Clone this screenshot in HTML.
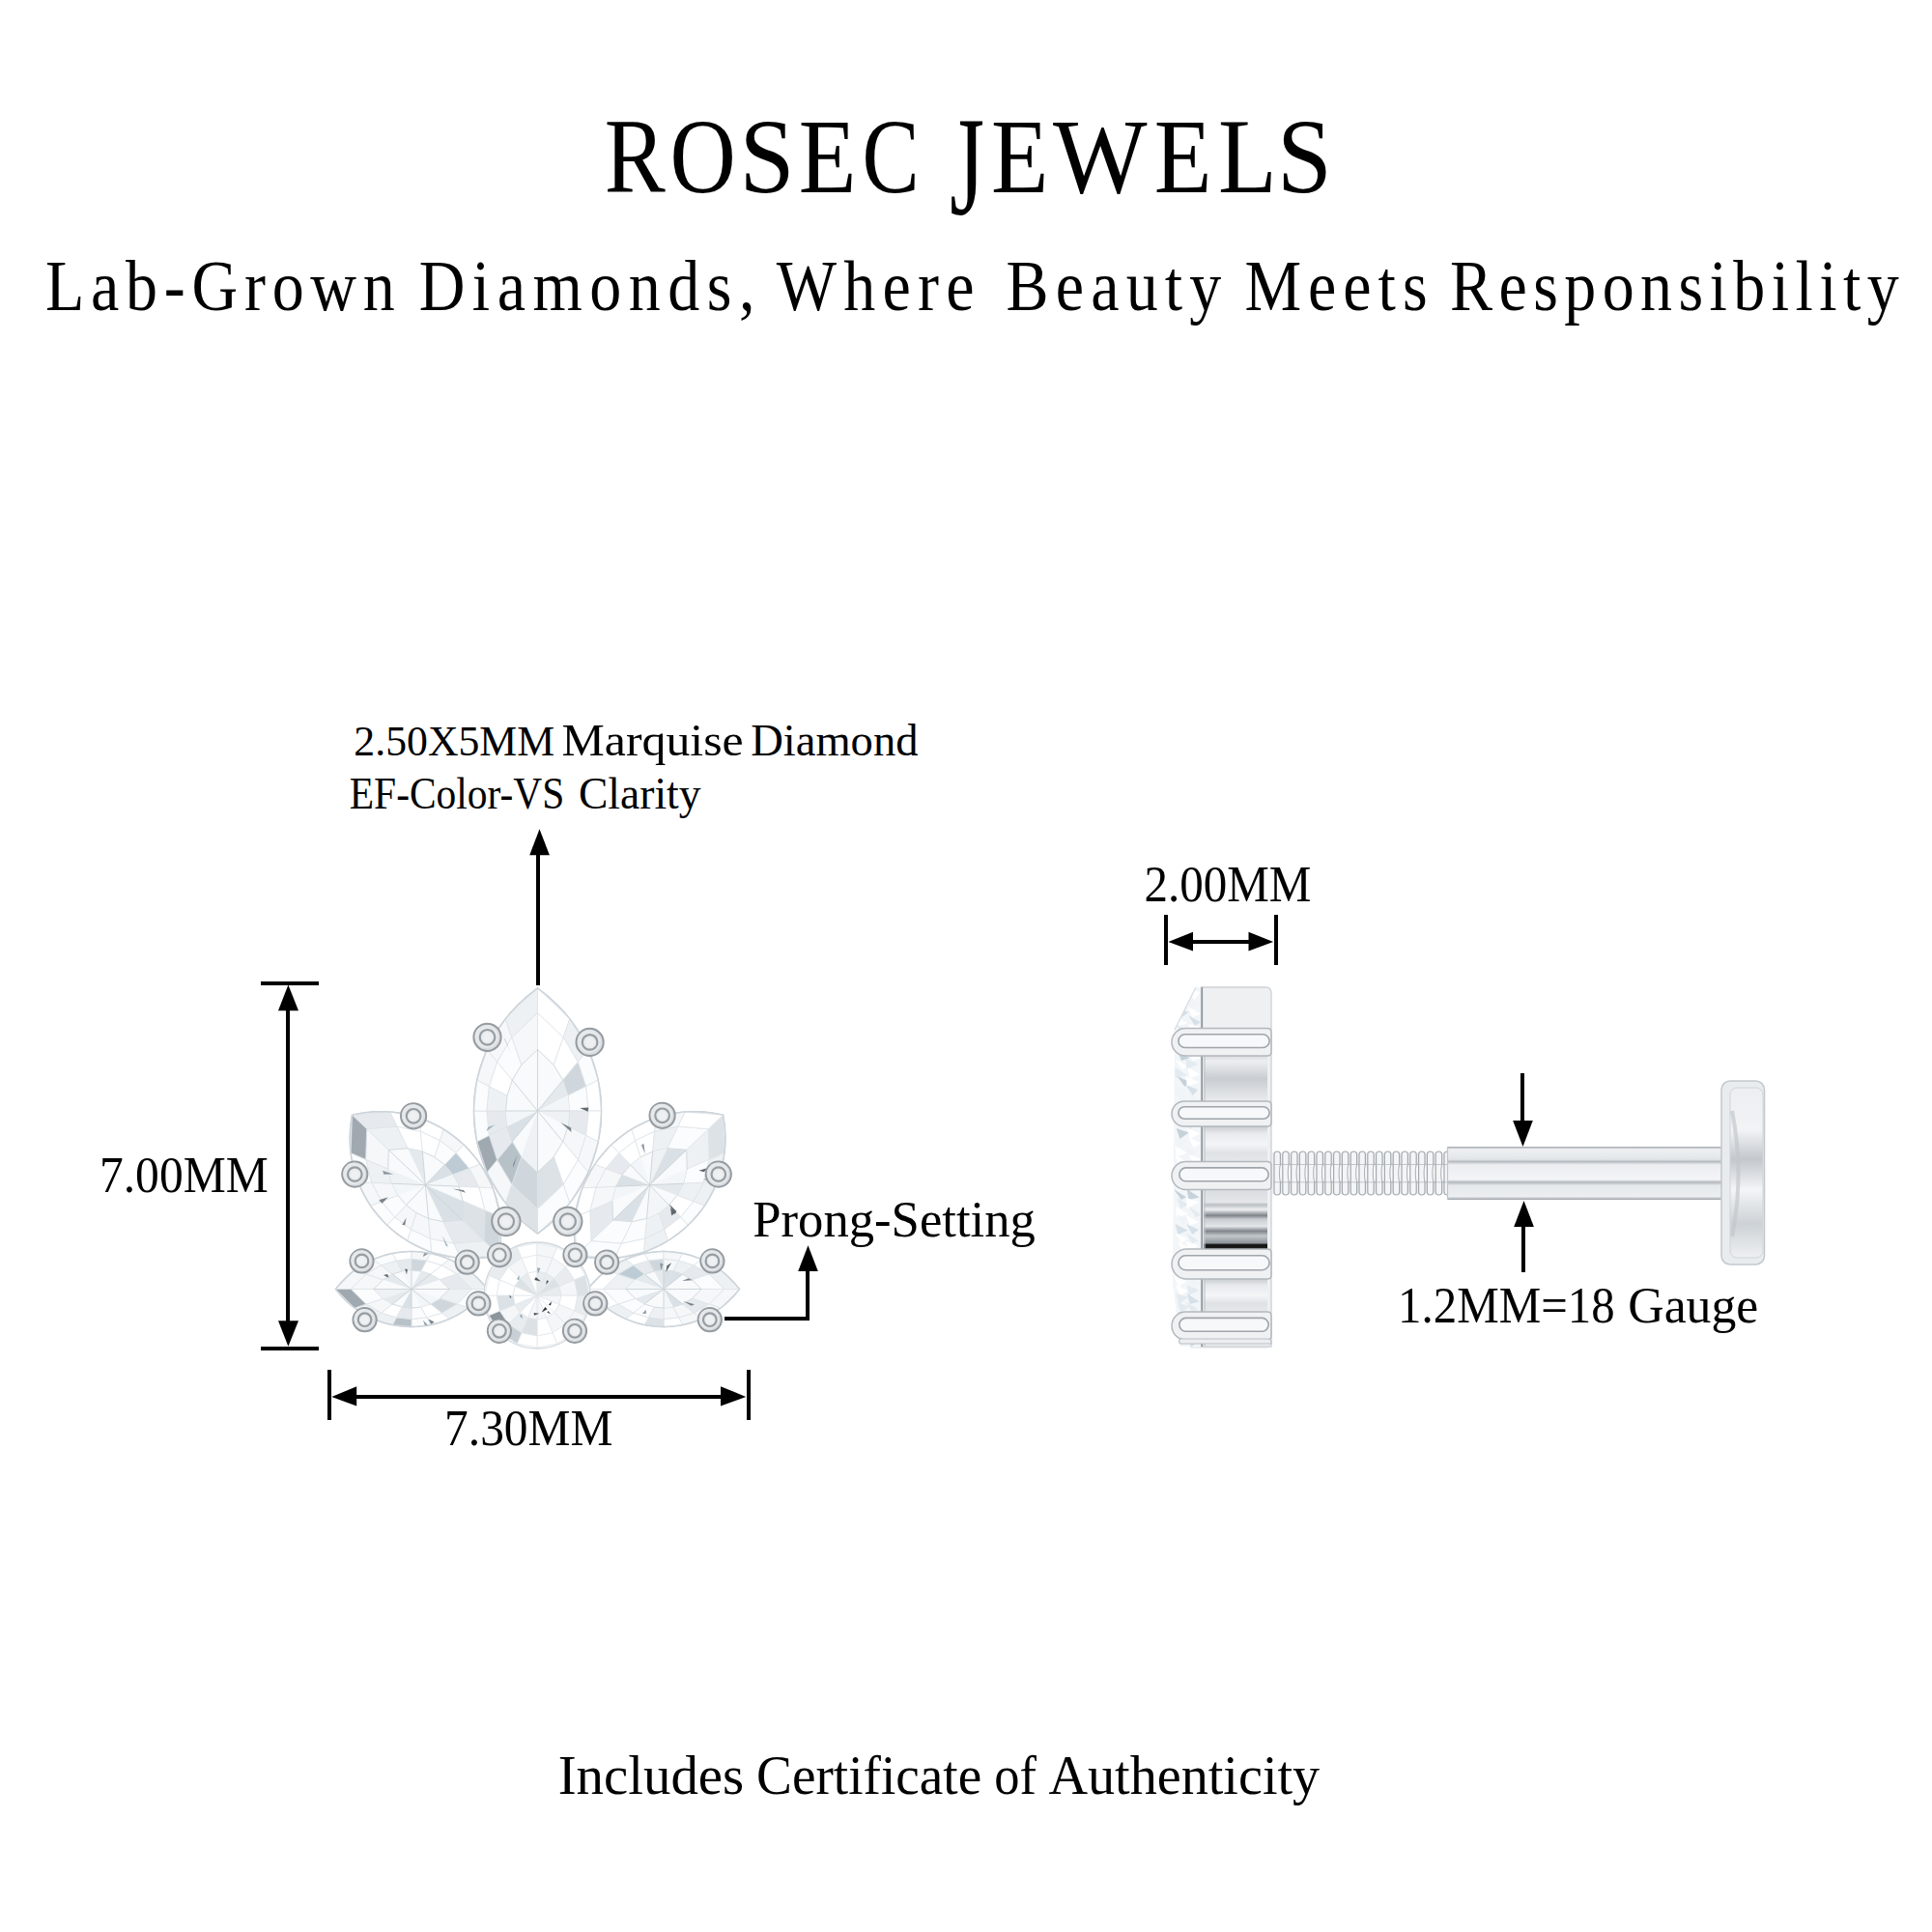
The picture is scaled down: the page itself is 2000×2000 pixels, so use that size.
<!DOCTYPE html>
<html><head><meta charset="utf-8">
<style>
html,body{margin:0;padding:0;background:#fff;}
body{width:2000px;height:2000px;overflow:hidden;}
svg{display:block;}
text{font-family:"Liberation Serif",serif;fill:#000;}
</style></head>
<body>
<svg width="2000" height="2000" viewBox="0 0 2000 2000">
<rect x="0" y="0" width="2000" height="2000" fill="#fff"/>
<path d="M347.5 1334.5 L352.7 1328.2 L358.0 1322.8 L363.2 1318.1 L368.4 1314.1 L373.7 1310.6 L378.9 1307.5 L384.1 1304.8 L389.4 1302.6 L394.6 1300.6 L399.8 1299.0 L405.1 1297.8 L410.3 1296.8 L415.5 1296.1 L420.8 1295.6 L426.0 1295.5 L431.2 1295.6 L436.5 1296.1 L441.7 1296.8 L446.9 1297.8 L452.2 1299.0 L457.4 1300.6 L462.6 1302.6 L467.9 1304.8 L473.1 1307.5 L478.3 1310.6 L483.6 1314.1 L488.8 1318.1 L494.0 1322.8 L499.3 1328.2 L504.5 1334.5 L499.3 1340.8 L494.0 1346.2 L488.8 1350.9 L483.6 1354.9 L478.3 1358.4 L473.1 1361.5 L467.9 1364.2 L462.6 1366.4 L457.4 1368.4 L452.2 1370.0 L446.9 1371.2 L441.7 1372.2 L436.5 1372.9 L431.2 1373.4 L426.0 1373.5 L420.8 1373.4 L415.5 1372.9 L410.3 1372.2 L405.1 1371.2 L399.8 1370.0 L394.6 1368.4 L389.4 1366.4 L384.1 1364.2 L378.9 1361.5 L373.7 1358.4 L368.4 1354.9 L363.2 1350.9 L358.0 1346.2 L352.7 1340.8 Z" fill="#f6f8fa" stroke="#c9d0d6" stroke-width="1.4"/>
<polygon points="386.8,1334.5 363.2,1334.5 378.9,1318.9 396.6,1324.8" fill="#f5f7f9" stroke="#dde3e7" stroke-width="0.8"/>
<polygon points="363.2,1334.5 347.5,1334.5 367.1,1315.0 378.9,1318.9" fill="#f5f7f9" stroke="#dde3e7" stroke-width="0.8"/>
<polygon points="396.6,1324.8 378.9,1318.9 394.6,1309.8 406.4,1319.1" fill="#f5f7f9" stroke="#dde3e7" stroke-width="0.8"/>
<polygon points="378.9,1318.9 367.1,1315.0 386.8,1303.7 394.6,1309.8" fill="#f5f7f9" stroke="#dde3e7" stroke-width="0.8"/>
<polygon points="406.4,1319.1 394.6,1309.8 410.3,1304.9 416.2,1316.0" fill="#eef1f4" stroke="#dde3e7" stroke-width="0.8"/>
<polygon points="394.6,1309.8 386.8,1303.7 406.4,1297.5 410.3,1304.9" fill="#fbfcfd" stroke="#dde3e7" stroke-width="0.8"/>
<polygon points="416.2,1316.0 410.3,1304.9 426.0,1303.3 426.0,1315.0" fill="#e6eaee" stroke="#dde3e7" stroke-width="0.8"/>
<polygon points="410.3,1304.9 406.4,1297.5 426.0,1295.5 426.0,1303.3" fill="#ffffff" stroke="#dde3e7" stroke-width="0.8"/>
<polygon points="426.0,1315.0 426.0,1303.3 441.7,1304.9 435.8,1316.0" fill="#cfd6dc" stroke="#dde3e7" stroke-width="0.8"/>
<polygon points="426.0,1303.3 426.0,1295.5 445.6,1297.5 441.7,1304.9" fill="#f5f7f9" stroke="#dde3e7" stroke-width="0.8"/>
<polygon points="435.8,1316.0 441.7,1304.9 457.4,1309.8 445.6,1319.1" fill="#ffffff" stroke="#dde3e7" stroke-width="0.8"/>
<polygon points="441.7,1304.9 445.6,1297.5 465.2,1303.7 457.4,1309.8" fill="#ffffff" stroke="#dde3e7" stroke-width="0.8"/>
<polygon points="445.6,1319.1 457.4,1309.8 473.1,1318.9 455.4,1324.8" fill="#ffffff" stroke="#dde3e7" stroke-width="0.8"/>
<polygon points="457.4,1309.8 465.2,1303.7 484.9,1315.0 473.1,1318.9" fill="#f5f7f9" stroke="#dde3e7" stroke-width="0.8"/>
<polygon points="455.4,1324.8 473.1,1318.9 488.8,1334.5 465.2,1334.5" fill="#e6eaee" stroke="#dde3e7" stroke-width="0.8"/>
<polygon points="473.1,1318.9 484.9,1315.0 504.5,1334.5 488.8,1334.5" fill="#eef1f4" stroke="#dde3e7" stroke-width="0.8"/>
<polygon points="465.2,1334.5 488.8,1334.5 473.1,1350.1 455.4,1344.2" fill="#eef1f4" stroke="#dde3e7" stroke-width="0.8"/>
<polygon points="488.8,1334.5 504.5,1334.5 484.9,1354.0 473.1,1350.1" fill="#fbfcfd" stroke="#dde3e7" stroke-width="0.8"/>
<polygon points="455.4,1344.2 473.1,1350.1 457.4,1359.2 445.6,1349.9" fill="#cfd6dc" stroke="#dde3e7" stroke-width="0.8"/>
<polygon points="473.1,1350.1 484.9,1354.0 465.2,1365.3 457.4,1359.2" fill="#eef1f4" stroke="#dde3e7" stroke-width="0.8"/>
<polygon points="445.6,1349.9 457.4,1359.2 441.7,1364.1 435.8,1353.0" fill="#ffffff" stroke="#dde3e7" stroke-width="0.8"/>
<polygon points="457.4,1359.2 465.2,1365.3 445.6,1371.5 441.7,1364.1" fill="#ffffff" stroke="#dde3e7" stroke-width="0.8"/>
<polygon points="435.8,1353.0 441.7,1364.1 426.0,1365.7 426.0,1354.0" fill="#fbfcfd" stroke="#dde3e7" stroke-width="0.8"/>
<polygon points="441.7,1364.1 445.6,1371.5 426.0,1373.5 426.0,1365.7" fill="#fbfcfd" stroke="#dde3e7" stroke-width="0.8"/>
<polygon points="426.0,1354.0 426.0,1365.7 410.3,1364.1 416.2,1353.0" fill="#e6eaee" stroke="#dde3e7" stroke-width="0.8"/>
<polygon points="426.0,1365.7 426.0,1373.5 406.4,1371.5 410.3,1364.1" fill="#b7c1c8" stroke="#dde3e7" stroke-width="0.8"/>
<polygon points="416.2,1353.0 410.3,1364.1 394.6,1359.2 406.4,1349.9" fill="#ffffff" stroke="#dde3e7" stroke-width="0.8"/>
<polygon points="410.3,1364.1 406.4,1371.5 386.8,1365.3 394.6,1359.2" fill="#eef1f4" stroke="#dde3e7" stroke-width="0.8"/>
<polygon points="406.4,1349.9 394.6,1359.2 378.9,1350.1 396.6,1344.2" fill="#f5f7f9" stroke="#dde3e7" stroke-width="0.8"/>
<polygon points="394.6,1359.2 386.8,1365.3 367.1,1354.0 378.9,1350.1" fill="#eef1f4" stroke="#dde3e7" stroke-width="0.8"/>
<polygon points="396.6,1344.2 378.9,1350.1 363.2,1334.5 386.8,1334.5" fill="#fbfcfd" stroke="#dde3e7" stroke-width="0.8"/>
<polygon points="378.9,1350.1 367.1,1354.0 347.5,1334.5 363.2,1334.5" fill="#a0a9b0" stroke="#dde3e7" stroke-width="0.8"/>
<polygon points="386.8,1334.5 396.6,1324.8 406.4,1319.1 416.2,1316.0 426.0,1315.0 435.8,1316.0 445.6,1319.1 455.4,1324.8 465.2,1334.5 455.4,1344.2 445.6,1349.9 435.8,1353.0 426.0,1354.0 416.2,1353.0 406.4,1349.9 396.6,1344.2" fill="#f8fafb" stroke="#d3dade" stroke-width="0.9"/>
<polygon points="426.0,1334.5 396.6,1324.8 406.4,1319.1" fill="#e4e9ed"/>
<polygon points="426.0,1334.5 416.2,1316.0 426.0,1315.0" fill="#f3f6f8"/>
<polygon points="426.0,1334.5 435.8,1316.0 445.6,1319.1" fill="#e4e9ed"/>
<polygon points="426.0,1334.5 445.6,1319.1 455.4,1324.8" fill="#e4e9ed"/>
<polygon points="426.0,1334.5 455.4,1344.2 445.6,1349.9" fill="#f3f6f8"/>
<polygon points="426.0,1334.5 445.6,1349.9 435.8,1353.0" fill="#f3f6f8"/>
<polygon points="426.0,1334.5 426.0,1354.0 416.2,1353.0" fill="#dae1e6"/>
<polygon points="426.0,1334.5 406.4,1349.9 396.6,1344.2" fill="#e4e9ed"/>
<polygon points="426.0,1334.5 396.6,1344.2 386.8,1334.5" fill="#eef2f5"/>
<line x1="426.0" y1="1334.5" x2="386.8" y2="1334.5" stroke="#c9d1d7" stroke-width="0.9"/>
<line x1="426.0" y1="1334.5" x2="406.4" y2="1319.1" stroke="#c9d1d7" stroke-width="0.9"/>
<line x1="426.0" y1="1334.5" x2="426.0" y2="1315.0" stroke="#c9d1d7" stroke-width="0.9"/>
<line x1="426.0" y1="1334.5" x2="445.6" y2="1319.1" stroke="#c9d1d7" stroke-width="0.9"/>
<line x1="426.0" y1="1334.5" x2="465.2" y2="1334.5" stroke="#c9d1d7" stroke-width="0.9"/>
<line x1="426.0" y1="1334.5" x2="445.6" y2="1349.9" stroke="#c9d1d7" stroke-width="0.9"/>
<line x1="426.0" y1="1334.5" x2="426.0" y2="1354.0" stroke="#c9d1d7" stroke-width="0.9"/>
<line x1="426.0" y1="1334.5" x2="406.4" y2="1349.9" stroke="#c9d1d7" stroke-width="0.9"/>
<polygon points="402.5,1322.7 396.9,1319.9 401.2,1318.9" fill="#5f686e"/>
<polygon points="421.0,1319.2 419.1,1313.5 421.9,1314.1" fill="#5f686e"/>
<polygon points="437.8,1301.1 439.6,1295.8 443.4,1298.0" fill="#8f9aa2"/>
<polygon points="437.9,1366.8 440.4,1373.6 443.1,1371.7" fill="#8f9aa2"/>
<polygon points="443.2,1365.3 446.3,1370.9 449.6,1368.5" fill="#7b848b"/>
<path d="M347.5 1334.5 L352.7 1328.2 L358.0 1322.8 L363.2 1318.1 L368.4 1314.1 L373.7 1310.6 L378.9 1307.5 L384.1 1304.8 L389.4 1302.6 L394.6 1300.6 L399.8 1299.0 L405.1 1297.8 L410.3 1296.8 L415.5 1296.1 L420.8 1295.6 L426.0 1295.5 L431.2 1295.6 L436.5 1296.1 L441.7 1296.8 L446.9 1297.8 L452.2 1299.0 L457.4 1300.6 L462.6 1302.6 L467.9 1304.8 L473.1 1307.5 L478.3 1310.6 L483.6 1314.1 L488.8 1318.1 L494.0 1322.8 L499.3 1328.2 L504.5 1334.5 L499.3 1340.8 L494.0 1346.2 L488.8 1350.9 L483.6 1354.9 L478.3 1358.4 L473.1 1361.5 L467.9 1364.2 L462.6 1366.4 L457.4 1368.4 L452.2 1370.0 L446.9 1371.2 L441.7 1372.2 L436.5 1372.9 L431.2 1373.4 L426.0 1373.5 L420.8 1373.4 L415.5 1372.9 L410.3 1372.2 L405.1 1371.2 L399.8 1370.0 L394.6 1368.4 L389.4 1366.4 L384.1 1364.2 L378.9 1361.5 L373.7 1358.4 L368.4 1354.9 L363.2 1350.9 L358.0 1346.2 L352.7 1340.8 Z" fill="none" stroke="#cdd4da" stroke-width="1.3"/>
<path d="M608.5 1334.5 L613.7 1328.2 L619.0 1322.8 L624.2 1318.1 L629.4 1314.1 L634.7 1310.6 L639.9 1307.5 L645.1 1304.8 L650.4 1302.6 L655.6 1300.6 L660.8 1299.0 L666.1 1297.8 L671.3 1296.8 L676.5 1296.1 L681.8 1295.6 L687.0 1295.5 L692.2 1295.6 L697.5 1296.1 L702.7 1296.8 L707.9 1297.8 L713.2 1299.0 L718.4 1300.6 L723.6 1302.6 L728.9 1304.8 L734.1 1307.5 L739.3 1310.6 L744.6 1314.1 L749.8 1318.1 L755.0 1322.8 L760.3 1328.2 L765.5 1334.5 L760.3 1340.8 L755.0 1346.2 L749.8 1350.9 L744.6 1354.9 L739.3 1358.4 L734.1 1361.5 L728.9 1364.2 L723.6 1366.4 L718.4 1368.4 L713.2 1370.0 L707.9 1371.2 L702.7 1372.2 L697.5 1372.9 L692.2 1373.4 L687.0 1373.5 L681.8 1373.4 L676.5 1372.9 L671.3 1372.2 L666.1 1371.2 L660.8 1370.0 L655.6 1368.4 L650.4 1366.4 L645.1 1364.2 L639.9 1361.5 L634.7 1358.4 L629.4 1354.9 L624.2 1350.9 L619.0 1346.2 L613.7 1340.8 Z" fill="#f6f8fa" stroke="#c9d0d6" stroke-width="1.4"/>
<polygon points="647.8,1334.5 624.2,1334.5 639.9,1318.9 657.6,1324.8" fill="#eef1f4" stroke="#dde3e7" stroke-width="0.8"/>
<polygon points="624.2,1334.5 608.5,1334.5 628.1,1315.0 639.9,1318.9" fill="#ffffff" stroke="#dde3e7" stroke-width="0.8"/>
<polygon points="657.6,1324.8 639.9,1318.9 655.6,1309.8 667.4,1319.1" fill="#bccbd4" stroke="#dde3e7" stroke-width="0.8"/>
<polygon points="639.9,1318.9 628.1,1315.0 647.8,1303.7 655.6,1309.8" fill="#eef1f4" stroke="#dde3e7" stroke-width="0.8"/>
<polygon points="667.4,1319.1 655.6,1309.8 671.3,1304.9 677.2,1316.0" fill="#e6eaee" stroke="#dde3e7" stroke-width="0.8"/>
<polygon points="655.6,1309.8 647.8,1303.7 667.4,1297.5 671.3,1304.9" fill="#ffffff" stroke="#dde3e7" stroke-width="0.8"/>
<polygon points="677.2,1316.0 671.3,1304.9 687.0,1303.3 687.0,1315.0" fill="#cfd6dc" stroke="#dde3e7" stroke-width="0.8"/>
<polygon points="671.3,1304.9 667.4,1297.5 687.0,1295.5 687.0,1303.3" fill="#fbfcfd" stroke="#dde3e7" stroke-width="0.8"/>
<polygon points="687.0,1315.0 687.0,1303.3 702.7,1304.9 696.8,1316.0" fill="#f5f7f9" stroke="#dde3e7" stroke-width="0.8"/>
<polygon points="687.0,1303.3 687.0,1295.5 706.6,1297.5 702.7,1304.9" fill="#f5f7f9" stroke="#dde3e7" stroke-width="0.8"/>
<polygon points="696.8,1316.0 702.7,1304.9 718.4,1309.8 706.6,1319.1" fill="#eef1f4" stroke="#dde3e7" stroke-width="0.8"/>
<polygon points="702.7,1304.9 706.6,1297.5 726.2,1303.7 718.4,1309.8" fill="#ffffff" stroke="#dde3e7" stroke-width="0.8"/>
<polygon points="706.6,1319.1 718.4,1309.8 734.1,1318.9 716.4,1324.8" fill="#e6eaee" stroke="#dde3e7" stroke-width="0.8"/>
<polygon points="718.4,1309.8 726.2,1303.7 745.9,1315.0 734.1,1318.9" fill="#ffffff" stroke="#dde3e7" stroke-width="0.8"/>
<polygon points="716.4,1324.8 734.1,1318.9 749.8,1334.5 726.2,1334.5" fill="#fbfcfd" stroke="#dde3e7" stroke-width="0.8"/>
<polygon points="734.1,1318.9 745.9,1315.0 765.5,1334.5 749.8,1334.5" fill="#eef1f4" stroke="#dde3e7" stroke-width="0.8"/>
<polygon points="726.2,1334.5 749.8,1334.5 734.1,1350.1 716.4,1344.2" fill="#f5f7f9" stroke="#dde3e7" stroke-width="0.8"/>
<polygon points="749.8,1334.5 765.5,1334.5 745.9,1354.0 734.1,1350.1" fill="#f5f7f9" stroke="#dde3e7" stroke-width="0.8"/>
<polygon points="716.4,1344.2 734.1,1350.1 718.4,1359.2 706.6,1349.9" fill="#e6eaee" stroke="#dde3e7" stroke-width="0.8"/>
<polygon points="734.1,1350.1 745.9,1354.0 726.2,1365.3 718.4,1359.2" fill="#f5f7f9" stroke="#dde3e7" stroke-width="0.8"/>
<polygon points="706.6,1349.9 718.4,1359.2 702.7,1364.1 696.8,1353.0" fill="#f5f7f9" stroke="#dde3e7" stroke-width="0.8"/>
<polygon points="718.4,1359.2 726.2,1365.3 706.6,1371.5 702.7,1364.1" fill="#f5f7f9" stroke="#dde3e7" stroke-width="0.8"/>
<polygon points="696.8,1353.0 702.7,1364.1 687.0,1365.7 687.0,1354.0" fill="#f5f7f9" stroke="#dde3e7" stroke-width="0.8"/>
<polygon points="702.7,1364.1 706.6,1371.5 687.0,1373.5 687.0,1365.7" fill="#ffffff" stroke="#dde3e7" stroke-width="0.8"/>
<polygon points="687.0,1354.0 687.0,1365.7 671.3,1364.1 677.2,1353.0" fill="#eef1f4" stroke="#dde3e7" stroke-width="0.8"/>
<polygon points="687.0,1365.7 687.0,1373.5 667.4,1371.5 671.3,1364.1" fill="#dce2e6" stroke="#dde3e7" stroke-width="0.8"/>
<polygon points="677.2,1353.0 671.3,1364.1 655.6,1359.2 667.4,1349.9" fill="#fbfcfd" stroke="#dde3e7" stroke-width="0.8"/>
<polygon points="671.3,1364.1 667.4,1371.5 647.8,1365.3 655.6,1359.2" fill="#ffffff" stroke="#dde3e7" stroke-width="0.8"/>
<polygon points="667.4,1349.9 655.6,1359.2 639.9,1350.1 657.6,1344.2" fill="#fbfcfd" stroke="#dde3e7" stroke-width="0.8"/>
<polygon points="655.6,1359.2 647.8,1365.3 628.1,1354.0 639.9,1350.1" fill="#eef1f4" stroke="#dde3e7" stroke-width="0.8"/>
<polygon points="657.6,1344.2 639.9,1350.1 624.2,1334.5 647.8,1334.5" fill="#fbfcfd" stroke="#dde3e7" stroke-width="0.8"/>
<polygon points="639.9,1350.1 628.1,1354.0 608.5,1334.5 624.2,1334.5" fill="#ffffff" stroke="#dde3e7" stroke-width="0.8"/>
<polygon points="647.8,1334.5 657.6,1324.8 667.4,1319.1 677.2,1316.0 687.0,1315.0 696.8,1316.0 706.6,1319.1 716.4,1324.8 726.2,1334.5 716.4,1344.2 706.6,1349.9 696.8,1353.0 687.0,1354.0 677.2,1353.0 667.4,1349.9 657.6,1344.2" fill="#f8fafb" stroke="#d3dade" stroke-width="0.9"/>
<polygon points="687.0,1334.5 647.8,1334.5 657.6,1324.8" fill="#f3f6f8"/>
<polygon points="687.0,1334.5 657.6,1324.8 667.4,1319.1" fill="#e4e9ed"/>
<polygon points="687.0,1334.5 677.2,1316.0 687.0,1315.0" fill="#e4e9ed"/>
<polygon points="687.0,1334.5 687.0,1315.0 696.8,1316.0" fill="#dae1e6"/>
<polygon points="687.0,1334.5 696.8,1316.0 706.6,1319.1" fill="#dae1e6"/>
<polygon points="687.0,1334.5 706.6,1349.9 696.8,1353.0" fill="#dae1e6"/>
<polygon points="687.0,1334.5 696.8,1353.0 687.0,1354.0" fill="#f3f6f8"/>
<polygon points="687.0,1334.5 667.4,1349.9 657.6,1344.2" fill="#e4e9ed"/>
<line x1="687.0" y1="1334.5" x2="647.8" y2="1334.5" stroke="#c9d1d7" stroke-width="0.9"/>
<line x1="687.0" y1="1334.5" x2="667.4" y2="1319.1" stroke="#c9d1d7" stroke-width="0.9"/>
<line x1="687.0" y1="1334.5" x2="687.0" y2="1315.0" stroke="#c9d1d7" stroke-width="0.9"/>
<line x1="687.0" y1="1334.5" x2="706.6" y2="1319.1" stroke="#c9d1d7" stroke-width="0.9"/>
<line x1="687.0" y1="1334.5" x2="726.2" y2="1334.5" stroke="#c9d1d7" stroke-width="0.9"/>
<line x1="687.0" y1="1334.5" x2="706.6" y2="1349.9" stroke="#c9d1d7" stroke-width="0.9"/>
<line x1="687.0" y1="1334.5" x2="687.0" y2="1354.0" stroke="#c9d1d7" stroke-width="0.9"/>
<line x1="687.0" y1="1334.5" x2="667.4" y2="1349.9" stroke="#c9d1d7" stroke-width="0.9"/>
<polygon points="689.4,1316.9 690.3,1310.3 695.1,1307.3" fill="#5f686e"/>
<polygon points="707.5,1347.0 715.5,1351.8 719.0,1350.3" fill="#7b848b"/>
<polygon points="706.3,1326.0 712.6,1323.2 717.0,1325.2" fill="#7b848b"/>
<polygon points="668.6,1355.8 664.9,1360.0 669.0,1359.7" fill="#8f9aa2"/>
<polygon points="684.2,1315.0 683.1,1307.5 686.6,1308.6" fill="#8f9aa2"/>
<path d="M608.5 1334.5 L613.7 1328.2 L619.0 1322.8 L624.2 1318.1 L629.4 1314.1 L634.7 1310.6 L639.9 1307.5 L645.1 1304.8 L650.4 1302.6 L655.6 1300.6 L660.8 1299.0 L666.1 1297.8 L671.3 1296.8 L676.5 1296.1 L681.8 1295.6 L687.0 1295.5 L692.2 1295.6 L697.5 1296.1 L702.7 1296.8 L707.9 1297.8 L713.2 1299.0 L718.4 1300.6 L723.6 1302.6 L728.9 1304.8 L734.1 1307.5 L739.3 1310.6 L744.6 1314.1 L749.8 1318.1 L755.0 1322.8 L760.3 1328.2 L765.5 1334.5 L760.3 1340.8 L755.0 1346.2 L749.8 1350.9 L744.6 1354.9 L739.3 1358.4 L734.1 1361.5 L728.9 1364.2 L723.6 1366.4 L718.4 1368.4 L713.2 1370.0 L707.9 1371.2 L702.7 1372.2 L697.5 1372.9 L692.2 1373.4 L687.0 1373.5 L681.8 1373.4 L676.5 1372.9 L671.3 1372.2 L666.1 1371.2 L660.8 1370.0 L655.6 1368.4 L650.4 1366.4 L645.1 1364.2 L639.9 1361.5 L634.7 1358.4 L629.4 1354.9 L624.2 1350.9 L619.0 1346.2 L613.7 1340.8 Z" fill="none" stroke="#cdd4da" stroke-width="1.3"/>
<path d="M364.5 1154.2 L376.4 1151.9 L387.1 1150.8 L396.9 1150.6 L406.1 1151.2 L414.7 1152.3 L422.8 1154.0 L430.5 1156.0 L437.8 1158.5 L444.7 1161.4 L451.4 1164.6 L457.7 1168.1 L463.7 1171.9 L469.5 1176.0 L474.9 1180.4 L480.1 1185.1 L485.1 1190.1 L489.7 1195.4 L494.1 1200.9 L498.2 1206.8 L502.0 1212.9 L505.5 1219.4 L508.6 1226.2 L511.4 1233.4 L513.9 1241.0 L515.9 1249.0 L517.4 1257.6 L518.4 1266.7 L518.6 1276.5 L518.1 1287.3 L516.3 1299.2 L504.4 1301.5 L493.7 1302.6 L483.9 1302.8 L474.7 1302.2 L466.1 1301.1 L458.0 1299.4 L450.3 1297.4 L443.0 1294.9 L436.1 1292.0 L429.4 1288.8 L423.1 1285.3 L417.1 1281.5 L411.3 1277.4 L405.9 1273.0 L400.7 1268.3 L395.7 1263.3 L391.1 1258.0 L386.7 1252.5 L382.6 1246.6 L378.8 1240.5 L375.3 1234.0 L372.2 1227.2 L369.4 1220.0 L366.9 1212.4 L364.9 1204.4 L363.4 1195.8 L362.4 1186.7 L362.2 1176.9 L362.7 1166.1 Z" fill="#f6f8fa" stroke="#c9d0d6" stroke-width="1.4"/>
<polygon points="402.4,1190.4 379.7,1168.7 411.1,1166.1 422.1,1188.8" fill="#eef1f4" stroke="#dde3e7" stroke-width="0.8"/>
<polygon points="379.7,1168.7 364.5,1154.2 403.8,1151.0 411.1,1166.1" fill="#e6eaee" stroke="#dde3e7" stroke-width="0.8"/>
<polygon points="422.1,1188.8 411.1,1166.1 435.4,1171.1 437.3,1192.0" fill="#ffffff" stroke="#dde3e7" stroke-width="0.8"/>
<polygon points="411.1,1166.1 403.8,1151.0 434.2,1157.2 435.4,1171.1" fill="#ffffff" stroke="#dde3e7" stroke-width="0.8"/>
<polygon points="437.3,1192.0 435.4,1171.1 455.5,1180.6 449.8,1197.9" fill="#ffffff" stroke="#dde3e7" stroke-width="0.8"/>
<polygon points="435.4,1171.1 434.2,1157.2 459.2,1169.0 455.5,1180.6" fill="#ffffff" stroke="#dde3e7" stroke-width="0.8"/>
<polygon points="449.8,1197.9 455.5,1180.6 472.2,1193.4 460.3,1205.9" fill="#fbfcfd" stroke="#dde3e7" stroke-width="0.8"/>
<polygon points="455.5,1180.6 459.2,1169.0 480.1,1185.1 472.2,1193.4" fill="#f5f7f9" stroke="#dde3e7" stroke-width="0.8"/>
<polygon points="460.3,1205.9 472.2,1193.4 485.8,1209.6 468.8,1216.0" fill="#bccbd4" stroke="#dde3e7" stroke-width="0.8"/>
<polygon points="472.2,1193.4 480.1,1185.1 497.2,1205.3 485.8,1209.6" fill="#ffffff" stroke="#dde3e7" stroke-width="0.8"/>
<polygon points="468.8,1216.0 485.8,1209.6 496.1,1229.2 475.2,1228.2" fill="#e6eaee" stroke="#dde3e7" stroke-width="0.8"/>
<polygon points="485.8,1209.6 497.2,1205.3 510.1,1229.8 496.1,1229.2" fill="#f5f7f9" stroke="#dde3e7" stroke-width="0.8"/>
<polygon points="475.2,1228.2 496.1,1229.2 502.2,1253.2 479.0,1243.3" fill="#ffffff" stroke="#dde3e7" stroke-width="0.8"/>
<polygon points="496.1,1229.2 510.1,1229.8 517.7,1259.8 502.2,1253.2" fill="#fbfcfd" stroke="#dde3e7" stroke-width="0.8"/>
<polygon points="479.0,1243.3 502.2,1253.2 501.1,1284.7 478.4,1263.0" fill="#dce2e6" stroke="#dde3e7" stroke-width="0.8"/>
<polygon points="502.2,1253.2 517.7,1259.8 516.3,1299.2 501.1,1284.7" fill="#cfd6dc" stroke="#dde3e7" stroke-width="0.8"/>
<polygon points="478.4,1263.0 501.1,1284.7 469.7,1287.3 458.7,1264.6" fill="#e6eaee" stroke="#dde3e7" stroke-width="0.8"/>
<polygon points="501.1,1284.7 516.3,1299.2 477.0,1302.4 469.7,1287.3" fill="#eef1f4" stroke="#dde3e7" stroke-width="0.8"/>
<polygon points="458.7,1264.6 469.7,1287.3 445.4,1282.3 443.5,1261.4" fill="#f5f7f9" stroke="#dde3e7" stroke-width="0.8"/>
<polygon points="469.7,1287.3 477.0,1302.4 446.6,1296.2 445.4,1282.3" fill="#fbfcfd" stroke="#dde3e7" stroke-width="0.8"/>
<polygon points="443.5,1261.4 445.4,1282.3 425.3,1272.8 431.0,1255.5" fill="#f5f7f9" stroke="#dde3e7" stroke-width="0.8"/>
<polygon points="445.4,1282.3 446.6,1296.2 421.6,1284.4 425.3,1272.8" fill="#fbfcfd" stroke="#dde3e7" stroke-width="0.8"/>
<polygon points="431.0,1255.5 425.3,1272.8 408.6,1260.0 420.5,1247.5" fill="#f5f7f9" stroke="#dde3e7" stroke-width="0.8"/>
<polygon points="425.3,1272.8 421.6,1284.4 400.7,1268.3 408.6,1260.0" fill="#ffffff" stroke="#dde3e7" stroke-width="0.8"/>
<polygon points="420.5,1247.5 408.6,1260.0 395.0,1243.8 412.0,1237.4" fill="#fbfcfd" stroke="#dde3e7" stroke-width="0.8"/>
<polygon points="408.6,1260.0 400.7,1268.3 383.6,1248.1 395.0,1243.8" fill="#fbfcfd" stroke="#dde3e7" stroke-width="0.8"/>
<polygon points="412.0,1237.4 395.0,1243.8 384.7,1224.2 405.6,1225.2" fill="#f5f7f9" stroke="#dde3e7" stroke-width="0.8"/>
<polygon points="395.0,1243.8 383.6,1248.1 370.7,1223.6 384.7,1224.2" fill="#f5f7f9" stroke="#dde3e7" stroke-width="0.8"/>
<polygon points="405.6,1225.2 384.7,1224.2 378.6,1200.2 401.8,1210.1" fill="#eef1f4" stroke="#dde3e7" stroke-width="0.8"/>
<polygon points="384.7,1224.2 370.7,1223.6 363.1,1193.6 378.6,1200.2" fill="#fbfcfd" stroke="#dde3e7" stroke-width="0.8"/>
<polygon points="401.8,1210.1 378.6,1200.2 379.7,1168.7 402.4,1190.4" fill="#f5f7f9" stroke="#dde3e7" stroke-width="0.8"/>
<polygon points="378.6,1200.2 363.1,1193.6 364.5,1154.2 379.7,1168.7" fill="#a0a9b0" stroke="#dde3e7" stroke-width="0.8"/>
<polygon points="402.4,1190.4 422.1,1188.8 437.3,1192.0 449.8,1197.9 460.3,1205.9 468.8,1216.0 475.2,1228.2 479.0,1243.3 478.4,1263.0 458.7,1264.6 443.5,1261.4 431.0,1255.5 420.5,1247.5 412.0,1237.4 405.6,1225.2 401.8,1210.1" fill="#f8fafb" stroke="#d3dade" stroke-width="0.9"/>
<polygon points="440.4,1226.7 422.1,1188.8 437.3,1192.0" fill="#e4e9ed"/>
<polygon points="440.4,1226.7 460.3,1205.9 468.8,1216.0" fill="#dae1e6"/>
<polygon points="440.4,1226.7 468.8,1216.0 475.2,1228.2" fill="#f3f6f8"/>
<polygon points="440.4,1226.7 479.0,1243.3 478.4,1263.0" fill="#dae1e6"/>
<polygon points="440.4,1226.7 478.4,1263.0 458.7,1264.6" fill="#dae1e6"/>
<polygon points="440.4,1226.7 412.0,1237.4 405.6,1225.2" fill="#f3f6f8"/>
<polygon points="440.4,1226.7 405.6,1225.2 401.8,1210.1" fill="#eef2f5"/>
<line x1="440.4" y1="1226.7" x2="402.4" y2="1190.4" stroke="#c9d1d7" stroke-width="0.9"/>
<line x1="440.4" y1="1226.7" x2="437.3" y2="1192.0" stroke="#c9d1d7" stroke-width="0.9"/>
<line x1="440.4" y1="1226.7" x2="460.3" y2="1205.9" stroke="#c9d1d7" stroke-width="0.9"/>
<line x1="440.4" y1="1226.7" x2="475.2" y2="1228.2" stroke="#c9d1d7" stroke-width="0.9"/>
<line x1="440.4" y1="1226.7" x2="478.4" y2="1263.0" stroke="#c9d1d7" stroke-width="0.9"/>
<line x1="440.4" y1="1226.7" x2="443.5" y2="1261.4" stroke="#c9d1d7" stroke-width="0.9"/>
<line x1="440.4" y1="1226.7" x2="420.5" y2="1247.5" stroke="#c9d1d7" stroke-width="0.9"/>
<line x1="440.4" y1="1226.7" x2="405.6" y2="1225.2" stroke="#c9d1d7" stroke-width="0.9"/>
<polygon points="420.6,1260.4 416.2,1267.9 419.3,1268.3" fill="#7b848b"/>
<polygon points="468.4,1230.5 479.7,1232.0 482.2,1234.8" fill="#7b848b"/>
<polygon points="457.9,1279.0 461.5,1289.6 464.0,1290.5" fill="#9fb4c0"/>
<polygon points="401.8,1239.2 392.2,1242.3 395.6,1245.7" fill="#7b848b"/>
<polygon points="407.3,1215.6 396.1,1211.8 397.3,1215.7" fill="#8f9aa2"/>
<path d="M364.5 1154.2 L376.4 1151.9 L387.1 1150.8 L396.9 1150.6 L406.1 1151.2 L414.7 1152.3 L422.8 1154.0 L430.5 1156.0 L437.8 1158.5 L444.7 1161.4 L451.4 1164.6 L457.7 1168.1 L463.7 1171.9 L469.5 1176.0 L474.9 1180.4 L480.1 1185.1 L485.1 1190.1 L489.7 1195.4 L494.1 1200.9 L498.2 1206.8 L502.0 1212.9 L505.5 1219.4 L508.6 1226.2 L511.4 1233.4 L513.9 1241.0 L515.9 1249.0 L517.4 1257.6 L518.4 1266.7 L518.6 1276.5 L518.1 1287.3 L516.3 1299.2 L504.4 1301.5 L493.7 1302.6 L483.9 1302.8 L474.7 1302.2 L466.1 1301.1 L458.0 1299.4 L450.3 1297.4 L443.0 1294.9 L436.1 1292.0 L429.4 1288.8 L423.1 1285.3 L417.1 1281.5 L411.3 1277.4 L405.9 1273.0 L400.7 1268.3 L395.7 1263.3 L391.1 1258.0 L386.7 1252.5 L382.6 1246.6 L378.8 1240.5 L375.3 1234.0 L372.2 1227.2 L369.4 1220.0 L366.9 1212.4 L364.9 1204.4 L363.4 1195.8 L362.4 1186.7 L362.2 1176.9 L362.7 1166.1 Z" fill="none" stroke="#cdd4da" stroke-width="1.3"/>
<path d="M748.5 1154.2 L750.3 1166.1 L750.8 1176.9 L750.6 1186.7 L749.6 1195.8 L748.1 1204.4 L746.1 1212.4 L743.6 1220.0 L740.8 1227.2 L737.7 1234.0 L734.2 1240.5 L730.4 1246.6 L726.3 1252.5 L721.9 1258.0 L717.3 1263.3 L712.3 1268.3 L707.1 1273.0 L701.7 1277.4 L695.9 1281.5 L689.9 1285.3 L683.6 1288.8 L676.9 1292.0 L670.0 1294.9 L662.7 1297.4 L655.0 1299.4 L646.9 1301.1 L638.3 1302.2 L629.1 1302.8 L619.3 1302.6 L608.6 1301.5 L596.7 1299.2 L594.9 1287.3 L594.4 1276.5 L594.6 1266.7 L595.6 1257.6 L597.1 1249.0 L599.1 1241.0 L601.6 1233.4 L604.4 1226.2 L607.5 1219.4 L611.0 1212.9 L614.8 1206.8 L618.9 1200.9 L623.3 1195.4 L627.9 1190.1 L632.9 1185.1 L638.1 1180.4 L643.5 1176.0 L649.3 1171.9 L655.3 1168.1 L661.6 1164.6 L668.3 1161.4 L675.2 1158.5 L682.5 1156.0 L690.2 1154.0 L698.3 1152.3 L706.9 1151.2 L716.1 1150.6 L725.9 1150.8 L736.6 1151.9 Z" fill="#f6f8fa" stroke="#c9d0d6" stroke-width="1.4"/>
<polygon points="710.6,1190.4 733.3,1168.7 734.4,1200.2 711.2,1210.1" fill="#eef1f4" stroke="#dde3e7" stroke-width="0.8"/>
<polygon points="733.3,1168.7 748.5,1154.2 749.9,1193.6 734.4,1200.2" fill="#dce2e6" stroke="#dde3e7" stroke-width="0.8"/>
<polygon points="711.2,1210.1 734.4,1200.2 728.3,1224.2 707.4,1225.2" fill="#fbfcfd" stroke="#dde3e7" stroke-width="0.8"/>
<polygon points="734.4,1200.2 749.9,1193.6 742.3,1223.6 728.3,1224.2" fill="#eef1f4" stroke="#dde3e7" stroke-width="0.8"/>
<polygon points="707.4,1225.2 728.3,1224.2 718.0,1243.8 701.0,1237.4" fill="#eef1f4" stroke="#dde3e7" stroke-width="0.8"/>
<polygon points="728.3,1224.2 742.3,1223.6 729.4,1248.1 718.0,1243.8" fill="#eef1f4" stroke="#dde3e7" stroke-width="0.8"/>
<polygon points="701.0,1237.4 718.0,1243.8 704.4,1260.0 692.5,1247.5" fill="#ffffff" stroke="#dde3e7" stroke-width="0.8"/>
<polygon points="718.0,1243.8 729.4,1248.1 712.3,1268.3 704.4,1260.0" fill="#fbfcfd" stroke="#dde3e7" stroke-width="0.8"/>
<polygon points="692.5,1247.5 704.4,1260.0 687.7,1272.8 682.0,1255.5" fill="#e6eaee" stroke="#dde3e7" stroke-width="0.8"/>
<polygon points="704.4,1260.0 712.3,1268.3 691.4,1284.4 687.7,1272.8" fill="#ffffff" stroke="#dde3e7" stroke-width="0.8"/>
<polygon points="682.0,1255.5 687.7,1272.8 667.6,1282.3 669.5,1261.4" fill="#eef1f4" stroke="#dde3e7" stroke-width="0.8"/>
<polygon points="687.7,1272.8 691.4,1284.4 666.4,1296.2 667.6,1282.3" fill="#eef1f4" stroke="#dde3e7" stroke-width="0.8"/>
<polygon points="669.5,1261.4 667.6,1282.3 643.3,1287.3 654.3,1264.6" fill="#fbfcfd" stroke="#dde3e7" stroke-width="0.8"/>
<polygon points="667.6,1282.3 666.4,1296.2 636.0,1302.4 643.3,1287.3" fill="#ffffff" stroke="#dde3e7" stroke-width="0.8"/>
<polygon points="654.3,1264.6 643.3,1287.3 611.9,1284.7 634.6,1263.0" fill="#fbfcfd" stroke="#dde3e7" stroke-width="0.8"/>
<polygon points="643.3,1287.3 636.0,1302.4 596.7,1299.2 611.9,1284.7" fill="#fbfcfd" stroke="#dde3e7" stroke-width="0.8"/>
<polygon points="634.6,1263.0 611.9,1284.7 610.8,1253.2 634.0,1243.3" fill="#e6eaee" stroke="#dde3e7" stroke-width="0.8"/>
<polygon points="611.9,1284.7 596.7,1299.2 595.3,1259.8 610.8,1253.2" fill="#ffffff" stroke="#dde3e7" stroke-width="0.8"/>
<polygon points="634.0,1243.3 610.8,1253.2 616.9,1229.2 637.8,1228.2" fill="#f5f7f9" stroke="#dde3e7" stroke-width="0.8"/>
<polygon points="610.8,1253.2 595.3,1259.8 602.9,1229.8 616.9,1229.2" fill="#ffffff" stroke="#dde3e7" stroke-width="0.8"/>
<polygon points="637.8,1228.2 616.9,1229.2 627.2,1209.6 644.2,1216.0" fill="#f5f7f9" stroke="#dde3e7" stroke-width="0.8"/>
<polygon points="616.9,1229.2 602.9,1229.8 615.8,1205.3 627.2,1209.6" fill="#f5f7f9" stroke="#dde3e7" stroke-width="0.8"/>
<polygon points="644.2,1216.0 627.2,1209.6 640.8,1193.4 652.7,1205.9" fill="#e6eaee" stroke="#dde3e7" stroke-width="0.8"/>
<polygon points="627.2,1209.6 615.8,1205.3 632.9,1185.1 640.8,1193.4" fill="#ffffff" stroke="#dde3e7" stroke-width="0.8"/>
<polygon points="652.7,1205.9 640.8,1193.4 657.5,1180.6 663.2,1197.9" fill="#ffffff" stroke="#dde3e7" stroke-width="0.8"/>
<polygon points="640.8,1193.4 632.9,1185.1 653.8,1169.0 657.5,1180.6" fill="#ffffff" stroke="#dde3e7" stroke-width="0.8"/>
<polygon points="663.2,1197.9 657.5,1180.6 677.6,1171.1 675.7,1192.0" fill="#ffffff" stroke="#dde3e7" stroke-width="0.8"/>
<polygon points="657.5,1180.6 653.8,1169.0 678.8,1157.2 677.6,1171.1" fill="#ffffff" stroke="#dde3e7" stroke-width="0.8"/>
<polygon points="675.7,1192.0 677.6,1171.1 701.9,1166.1 690.9,1188.8" fill="#eef1f4" stroke="#dde3e7" stroke-width="0.8"/>
<polygon points="677.6,1171.1 678.8,1157.2 709.2,1151.0 701.9,1166.1" fill="#f5f7f9" stroke="#dde3e7" stroke-width="0.8"/>
<polygon points="690.9,1188.8 701.9,1166.1 733.3,1168.7 710.6,1190.4" fill="#fbfcfd" stroke="#dde3e7" stroke-width="0.8"/>
<polygon points="701.9,1166.1 709.2,1151.0 748.5,1154.2 733.3,1168.7" fill="#ffffff" stroke="#dde3e7" stroke-width="0.8"/>
<polygon points="710.6,1190.4 711.2,1210.1 707.4,1225.2 701.0,1237.4 692.5,1247.5 682.0,1255.5 669.5,1261.4 654.3,1264.6 634.6,1263.0 634.0,1243.3 637.8,1228.2 644.2,1216.0 652.7,1205.9 663.2,1197.9 675.7,1192.0 690.9,1188.8" fill="#f8fafb" stroke="#d3dade" stroke-width="0.9"/>
<polygon points="672.6,1226.7 711.2,1210.1 707.4,1225.2" fill="#f3f6f8"/>
<polygon points="672.6,1226.7 707.4,1225.2 701.0,1237.4" fill="#e4e9ed"/>
<polygon points="672.6,1226.7 692.5,1247.5 682.0,1255.5" fill="#f3f6f8"/>
<polygon points="672.6,1226.7 682.0,1255.5 669.5,1261.4" fill="#f3f6f8"/>
<polygon points="672.6,1226.7 654.3,1264.6 634.6,1263.0" fill="#dae1e6"/>
<polygon points="672.6,1226.7 634.0,1243.3 637.8,1228.2" fill="#f3f6f8"/>
<polygon points="672.6,1226.7 637.8,1228.2 644.2,1216.0" fill="#dae1e6"/>
<polygon points="672.6,1226.7 652.7,1205.9 663.2,1197.9" fill="#f3f6f8"/>
<polygon points="672.6,1226.7 675.7,1192.0 690.9,1188.8" fill="#eef2f5"/>
<polygon points="672.6,1226.7 690.9,1188.8 710.6,1190.4" fill="#dae1e6"/>
<line x1="672.6" y1="1226.7" x2="710.6" y2="1190.4" stroke="#c9d1d7" stroke-width="0.9"/>
<line x1="672.6" y1="1226.7" x2="707.4" y2="1225.2" stroke="#c9d1d7" stroke-width="0.9"/>
<line x1="672.6" y1="1226.7" x2="692.5" y2="1247.5" stroke="#c9d1d7" stroke-width="0.9"/>
<line x1="672.6" y1="1226.7" x2="669.5" y2="1261.4" stroke="#c9d1d7" stroke-width="0.9"/>
<line x1="672.6" y1="1226.7" x2="634.6" y2="1263.0" stroke="#c9d1d7" stroke-width="0.9"/>
<line x1="672.6" y1="1226.7" x2="637.8" y2="1228.2" stroke="#c9d1d7" stroke-width="0.9"/>
<line x1="672.6" y1="1226.7" x2="652.7" y2="1205.9" stroke="#c9d1d7" stroke-width="0.9"/>
<line x1="672.6" y1="1226.7" x2="675.7" y2="1192.0" stroke="#c9d1d7" stroke-width="0.9"/>
<polygon points="723.3,1211.8 731.9,1209.3 729.0,1213.3" fill="#5f686e"/>
<polygon points="728.0,1220.8 733.7,1220.2 731.7,1222.1" fill="#8f9aa2"/>
<polygon points="667.9,1194.5 666.4,1183.7 663.9,1185.6" fill="#8f9aa2"/>
<polygon points="694.0,1250.1 698.9,1255.4 695.2,1258.6" fill="#5f686e"/>
<polygon points="692.5,1246.3 700.4,1254.1 698.6,1257.1" fill="#5f686e"/>
<path d="M748.5 1154.2 L750.3 1166.1 L750.8 1176.9 L750.6 1186.7 L749.6 1195.8 L748.1 1204.4 L746.1 1212.4 L743.6 1220.0 L740.8 1227.2 L737.7 1234.0 L734.2 1240.5 L730.4 1246.6 L726.3 1252.5 L721.9 1258.0 L717.3 1263.3 L712.3 1268.3 L707.1 1273.0 L701.7 1277.4 L695.9 1281.5 L689.9 1285.3 L683.6 1288.8 L676.9 1292.0 L670.0 1294.9 L662.7 1297.4 L655.0 1299.4 L646.9 1301.1 L638.3 1302.2 L629.1 1302.8 L619.3 1302.6 L608.6 1301.5 L596.7 1299.2 L594.9 1287.3 L594.4 1276.5 L594.6 1266.7 L595.6 1257.6 L597.1 1249.0 L599.1 1241.0 L601.6 1233.4 L604.4 1226.2 L607.5 1219.4 L611.0 1212.9 L614.8 1206.8 L618.9 1200.9 L623.3 1195.4 L627.9 1190.1 L632.9 1185.1 L638.1 1180.4 L643.5 1176.0 L649.3 1171.9 L655.3 1168.1 L661.6 1164.6 L668.3 1161.4 L675.2 1158.5 L682.5 1156.0 L690.2 1154.0 L698.3 1152.3 L706.9 1151.2 L716.1 1150.6 L725.9 1150.8 L736.6 1151.9 Z" fill="none" stroke="#cdd4da" stroke-width="1.3"/>
<path d="M556.5 1023.0 L567.5 1031.5 L576.7 1039.9 L584.6 1048.4 L591.4 1056.9 L597.4 1065.3 L602.5 1073.8 L606.9 1082.3 L610.7 1090.7 L613.9 1099.2 L616.6 1107.7 L618.8 1116.1 L620.4 1124.6 L621.6 1133.1 L622.3 1141.5 L622.5 1150.0 L622.3 1158.5 L621.6 1166.9 L620.4 1175.4 L618.8 1183.9 L616.6 1192.3 L613.9 1200.8 L610.7 1209.3 L606.9 1217.7 L602.5 1226.2 L597.4 1234.7 L591.4 1243.1 L584.6 1251.6 L576.7 1260.1 L567.5 1268.5 L556.5 1277.0 L545.5 1268.5 L536.3 1260.1 L528.4 1251.6 L521.6 1243.1 L515.6 1234.7 L510.5 1226.2 L506.1 1217.7 L502.3 1209.3 L499.1 1200.8 L496.4 1192.3 L494.2 1183.9 L492.6 1175.4 L491.4 1166.9 L490.7 1158.5 L490.5 1150.0 L490.7 1141.5 L491.4 1133.1 L492.6 1124.6 L494.2 1116.1 L496.4 1107.7 L499.1 1099.2 L502.3 1090.7 L506.1 1082.3 L510.5 1073.8 L515.6 1065.3 L521.6 1056.9 L528.4 1048.4 L536.3 1039.9 L545.5 1031.5 Z" fill="#f6f8fa" stroke="#c9d0d6" stroke-width="1.4"/>
<polygon points="556.5,1086.5 556.5,1048.4 583.2,1073.8 573.2,1102.4" fill="#ffffff" stroke="#dde3e7" stroke-width="0.8"/>
<polygon points="556.5,1048.4 556.5,1023.0 589.8,1054.8 583.2,1073.8" fill="#ffffff" stroke="#dde3e7" stroke-width="0.8"/>
<polygon points="573.2,1102.4 583.2,1073.8 598.4,1099.2 582.7,1118.2" fill="#ffffff" stroke="#dde3e7" stroke-width="0.8"/>
<polygon points="583.2,1073.8 589.8,1054.8 608.9,1086.5 598.4,1099.2" fill="#eef1f4" stroke="#dde3e7" stroke-width="0.8"/>
<polygon points="582.7,1118.2 598.4,1099.2 606.7,1124.6 587.9,1134.1" fill="#cfd6dc" stroke="#dde3e7" stroke-width="0.8"/>
<polygon points="598.4,1099.2 608.9,1086.5 619.2,1118.2 606.7,1124.6" fill="#fbfcfd" stroke="#dde3e7" stroke-width="0.8"/>
<polygon points="587.9,1134.1 606.7,1124.6 609.3,1150.0 589.5,1150.0" fill="#fbfcfd" stroke="#dde3e7" stroke-width="0.8"/>
<polygon points="606.7,1124.6 619.2,1118.2 622.5,1150.0 609.3,1150.0" fill="#ffffff" stroke="#dde3e7" stroke-width="0.8"/>
<polygon points="589.5,1150.0 609.3,1150.0 606.7,1175.4 587.9,1165.9" fill="#e6eaee" stroke="#dde3e7" stroke-width="0.8"/>
<polygon points="609.3,1150.0 622.5,1150.0 619.2,1181.8 606.7,1175.4" fill="#ffffff" stroke="#dde3e7" stroke-width="0.8"/>
<polygon points="587.9,1165.9 606.7,1175.4 598.4,1200.8 582.7,1181.8" fill="#f5f7f9" stroke="#dde3e7" stroke-width="0.8"/>
<polygon points="606.7,1175.4 619.2,1181.8 608.9,1213.5 598.4,1200.8" fill="#f5f7f9" stroke="#dde3e7" stroke-width="0.8"/>
<polygon points="582.7,1181.8 598.4,1200.8 583.2,1226.2 573.2,1197.6" fill="#ffffff" stroke="#dde3e7" stroke-width="0.8"/>
<polygon points="598.4,1200.8 608.9,1213.5 589.8,1245.2 583.2,1226.2" fill="#fbfcfd" stroke="#dde3e7" stroke-width="0.8"/>
<polygon points="573.2,1197.6 583.2,1226.2 556.5,1251.6 556.5,1213.5" fill="#dce2e6" stroke="#dde3e7" stroke-width="0.8"/>
<polygon points="583.2,1226.2 589.8,1245.2 556.5,1277.0 556.5,1251.6" fill="#fbfcfd" stroke="#dde3e7" stroke-width="0.8"/>
<polygon points="556.5,1213.5 556.5,1251.6 529.8,1226.2 539.8,1197.6" fill="#cfd6dc" stroke="#dde3e7" stroke-width="0.8"/>
<polygon points="556.5,1251.6 556.5,1277.0 523.2,1245.2 529.8,1226.2" fill="#dce2e6" stroke="#dde3e7" stroke-width="0.8"/>
<polygon points="539.8,1197.6 529.8,1226.2 514.6,1200.8 530.3,1181.8" fill="#b7c1c8" stroke="#dde3e7" stroke-width="0.8"/>
<polygon points="529.8,1226.2 523.2,1245.2 504.1,1213.5 514.6,1200.8" fill="#f5f7f9" stroke="#dde3e7" stroke-width="0.8"/>
<polygon points="530.3,1181.8 514.6,1200.8 506.3,1175.4 525.1,1165.9" fill="#e6eaee" stroke="#dde3e7" stroke-width="0.8"/>
<polygon points="514.6,1200.8 504.1,1213.5 493.8,1181.8 506.3,1175.4" fill="#a0a9b0" stroke="#dde3e7" stroke-width="0.8"/>
<polygon points="525.1,1165.9 506.3,1175.4 503.7,1150.0 523.5,1150.0" fill="#e6eaee" stroke="#dde3e7" stroke-width="0.8"/>
<polygon points="506.3,1175.4 493.8,1181.8 490.5,1150.0 503.7,1150.0" fill="#fbfcfd" stroke="#dde3e7" stroke-width="0.8"/>
<polygon points="523.5,1150.0 503.7,1150.0 506.3,1124.6 525.1,1134.1" fill="#eef1f4" stroke="#dde3e7" stroke-width="0.8"/>
<polygon points="503.7,1150.0 490.5,1150.0 493.8,1118.2 506.3,1124.6" fill="#fbfcfd" stroke="#dde3e7" stroke-width="0.8"/>
<polygon points="525.1,1134.1 506.3,1124.6 514.6,1099.2 530.3,1118.2" fill="#ffffff" stroke="#dde3e7" stroke-width="0.8"/>
<polygon points="506.3,1124.6 493.8,1118.2 504.1,1086.5 514.6,1099.2" fill="#f5f7f9" stroke="#dde3e7" stroke-width="0.8"/>
<polygon points="530.3,1118.2 514.6,1099.2 529.8,1073.8 539.8,1102.4" fill="#fbfcfd" stroke="#dde3e7" stroke-width="0.8"/>
<polygon points="514.6,1099.2 504.1,1086.5 523.2,1054.8 529.8,1073.8" fill="#f5f7f9" stroke="#dde3e7" stroke-width="0.8"/>
<polygon points="539.8,1102.4 529.8,1073.8 556.5,1048.4 556.5,1086.5" fill="#f5f7f9" stroke="#dde3e7" stroke-width="0.8"/>
<polygon points="529.8,1073.8 523.2,1054.8 556.5,1023.0 556.5,1048.4" fill="#eef1f4" stroke="#dde3e7" stroke-width="0.8"/>
<polygon points="556.5,1086.5 573.2,1102.4 582.7,1118.2 587.9,1134.1 589.5,1150.0 587.9,1165.9 582.7,1181.8 573.2,1197.6 556.5,1213.5 539.8,1197.6 530.3,1181.8 525.1,1165.9 523.5,1150.0 525.1,1134.1 530.3,1118.2 539.8,1102.4" fill="#f8fafb" stroke="#d3dade" stroke-width="0.9"/>
<polygon points="556.5,1150.0 582.7,1118.2 587.9,1134.1" fill="#e4e9ed"/>
<polygon points="556.5,1150.0 587.9,1134.1 589.5,1150.0" fill="#f3f6f8"/>
<polygon points="556.5,1150.0 589.5,1150.0 587.9,1165.9" fill="#eef2f5"/>
<polygon points="556.5,1150.0 556.5,1213.5 539.8,1197.6" fill="#eef2f5"/>
<polygon points="556.5,1150.0 530.3,1181.8 525.1,1165.9" fill="#dae1e6"/>
<polygon points="556.5,1150.0 525.1,1165.9 523.5,1150.0" fill="#f3f6f8"/>
<line x1="556.5" y1="1150.0" x2="556.5" y2="1086.5" stroke="#c9d1d7" stroke-width="0.9"/>
<line x1="556.5" y1="1150.0" x2="582.7" y2="1118.2" stroke="#c9d1d7" stroke-width="0.9"/>
<line x1="556.5" y1="1150.0" x2="589.5" y2="1150.0" stroke="#c9d1d7" stroke-width="0.9"/>
<line x1="556.5" y1="1150.0" x2="582.7" y2="1181.8" stroke="#c9d1d7" stroke-width="0.9"/>
<line x1="556.5" y1="1150.0" x2="556.5" y2="1213.5" stroke="#c9d1d7" stroke-width="0.9"/>
<line x1="556.5" y1="1150.0" x2="530.3" y2="1181.8" stroke="#c9d1d7" stroke-width="0.9"/>
<line x1="556.5" y1="1150.0" x2="523.5" y2="1150.0" stroke="#c9d1d7" stroke-width="0.9"/>
<line x1="556.5" y1="1150.0" x2="530.3" y2="1118.2" stroke="#c9d1d7" stroke-width="0.9"/>
<polygon points="600.2,1147.0 609.2,1146.4 608.6,1150.7" fill="#5f686e"/>
<polygon points="580.4,1162.1 591.1,1167.5 591.5,1172.0" fill="#7b848b"/>
<polygon points="512.8,1164.3 505.2,1166.8 503.4,1171.2" fill="#9fb4c0"/>
<polygon points="529.0,1090.6 521.5,1074.3 523.0,1076.3" fill="#9fb4c0"/>
<polygon points="535.5,1195.7 531.2,1205.2 531.2,1208.9" fill="#7b848b"/>
<path d="M556.5 1023.0 L567.5 1031.5 L576.7 1039.9 L584.6 1048.4 L591.4 1056.9 L597.4 1065.3 L602.5 1073.8 L606.9 1082.3 L610.7 1090.7 L613.9 1099.2 L616.6 1107.7 L618.8 1116.1 L620.4 1124.6 L621.6 1133.1 L622.3 1141.5 L622.5 1150.0 L622.3 1158.5 L621.6 1166.9 L620.4 1175.4 L618.8 1183.9 L616.6 1192.3 L613.9 1200.8 L610.7 1209.3 L606.9 1217.7 L602.5 1226.2 L597.4 1234.7 L591.4 1243.1 L584.6 1251.6 L576.7 1260.1 L567.5 1268.5 L556.5 1277.0 L545.5 1268.5 L536.3 1260.1 L528.4 1251.6 L521.6 1243.1 L515.6 1234.7 L510.5 1226.2 L506.1 1217.7 L502.3 1209.3 L499.1 1200.8 L496.4 1192.3 L494.2 1183.9 L492.6 1175.4 L491.4 1166.9 L490.7 1158.5 L490.5 1150.0 L490.7 1141.5 L491.4 1133.1 L492.6 1124.6 L494.2 1116.1 L496.4 1107.7 L499.1 1099.2 L502.3 1090.7 L506.1 1082.3 L510.5 1073.8 L515.6 1065.3 L521.6 1056.9 L528.4 1048.4 L536.3 1039.9 L545.5 1031.5 Z" fill="none" stroke="#cdd4da" stroke-width="1.3"/>
<circle cx="556" cy="1341" r="55" fill="#f6f8fa" stroke="#d2d8dd" stroke-width="1.3"/>
<polygon points="556.0,1341.0 581.0,1341.0 579.1,1350.6 556.0,1341.0" fill="#f4f6f8" stroke="#e0e5e9" stroke-width="0.7"/>
<polygon points="581.0,1341.0 598.0,1341.0 594.8,1357.1 579.1,1350.6" fill="#ffffff" stroke="#e0e5e9" stroke-width="0.7"/>
<polygon points="598.0,1341.0 610.0,1341.0 605.9,1361.7 594.8,1357.1" fill="#e8ecef" stroke="#e0e5e9" stroke-width="0.7"/>
<polygon points="556.0,1341.0 579.1,1350.6 573.7,1358.7 556.0,1341.0" fill="#ffffff" stroke="#e0e5e9" stroke-width="0.7"/>
<polygon points="579.1,1350.6 594.8,1357.1 585.7,1370.7 573.7,1358.7" fill="#f4f6f8" stroke="#e0e5e9" stroke-width="0.7"/>
<polygon points="594.8,1357.1 605.9,1361.7 594.2,1379.2 585.7,1370.7" fill="#f4f6f8" stroke="#e0e5e9" stroke-width="0.7"/>
<polygon points="556.0,1341.0 573.7,1358.7 565.6,1364.1 556.0,1341.0" fill="#ffffff" stroke="#e0e5e9" stroke-width="0.7"/>
<polygon points="573.7,1358.7 585.7,1370.7 572.1,1379.8 565.6,1364.1" fill="#f4f6f8" stroke="#e0e5e9" stroke-width="0.7"/>
<polygon points="585.7,1370.7 594.2,1379.2 576.7,1390.9 572.1,1379.8" fill="#ffffff" stroke="#e0e5e9" stroke-width="0.7"/>
<polygon points="556.0,1341.0 565.6,1364.1 556.0,1366.0 556.0,1341.0" fill="#f4f6f8" stroke="#e0e5e9" stroke-width="0.7"/>
<polygon points="565.6,1364.1 572.1,1379.8 556.0,1383.0 556.0,1366.0" fill="#ffffff" stroke="#e0e5e9" stroke-width="0.7"/>
<polygon points="572.1,1379.8 576.7,1390.9 556.0,1395.0 556.0,1383.0" fill="#ffffff" stroke="#e0e5e9" stroke-width="0.7"/>
<polygon points="556.0,1341.0 556.0,1366.0 546.4,1364.1 556.0,1341.0" fill="#f4f6f8" stroke="#e0e5e9" stroke-width="0.7"/>
<polygon points="556.0,1366.0 556.0,1383.0 539.9,1379.8 546.4,1364.1" fill="#dbe1e5" stroke="#e0e5e9" stroke-width="0.7"/>
<polygon points="556.0,1383.0 556.0,1395.0 535.3,1390.9 539.9,1379.8" fill="#ffffff" stroke="#e0e5e9" stroke-width="0.7"/>
<polygon points="556.0,1341.0 546.4,1364.1 538.3,1358.7 556.0,1341.0" fill="#ffffff" stroke="#e0e5e9" stroke-width="0.7"/>
<polygon points="546.4,1364.1 539.9,1379.8 526.3,1370.7 538.3,1358.7" fill="#e8ecef" stroke="#e0e5e9" stroke-width="0.7"/>
<polygon points="539.9,1379.8 535.3,1390.9 517.8,1379.2 526.3,1370.7" fill="#c9d0d5" stroke="#e0e5e9" stroke-width="0.7"/>
<polygon points="556.0,1341.0 538.3,1358.7 532.9,1350.6 556.0,1341.0" fill="#e8ecef" stroke="#e0e5e9" stroke-width="0.7"/>
<polygon points="538.3,1358.7 526.3,1370.7 517.2,1357.1 532.9,1350.6" fill="#f4f6f8" stroke="#e0e5e9" stroke-width="0.7"/>
<polygon points="526.3,1370.7 517.8,1379.2 506.1,1361.7 517.2,1357.1" fill="#8d969c" stroke="#e0e5e9" stroke-width="0.7"/>
<polygon points="556.0,1341.0 532.9,1350.6 531.0,1341.0 556.0,1341.0" fill="#ffffff" stroke="#e0e5e9" stroke-width="0.7"/>
<polygon points="532.9,1350.6 517.2,1357.1 514.0,1341.0 531.0,1341.0" fill="#dbe1e5" stroke="#e0e5e9" stroke-width="0.7"/>
<polygon points="517.2,1357.1 506.1,1361.7 502.0,1341.0 514.0,1341.0" fill="#ffffff" stroke="#e0e5e9" stroke-width="0.7"/>
<polygon points="556.0,1341.0 531.0,1341.0 532.9,1331.4 556.0,1341.0" fill="#ffffff" stroke="#e0e5e9" stroke-width="0.7"/>
<polygon points="531.0,1341.0 514.0,1341.0 517.2,1324.9 532.9,1331.4" fill="#ffffff" stroke="#e0e5e9" stroke-width="0.7"/>
<polygon points="514.0,1341.0 502.0,1341.0 506.1,1320.3 517.2,1324.9" fill="#ffffff" stroke="#e0e5e9" stroke-width="0.7"/>
<polygon points="556.0,1341.0 532.9,1331.4 538.3,1323.3 556.0,1341.0" fill="#dbe1e5" stroke="#e0e5e9" stroke-width="0.7"/>
<polygon points="532.9,1331.4 517.2,1324.9 526.3,1311.3 538.3,1323.3" fill="#ffffff" stroke="#e0e5e9" stroke-width="0.7"/>
<polygon points="517.2,1324.9 506.1,1320.3 517.8,1302.8 526.3,1311.3" fill="#e8ecef" stroke="#e0e5e9" stroke-width="0.7"/>
<polygon points="556.0,1341.0 538.3,1323.3 546.4,1317.9 556.0,1341.0" fill="#e8ecef" stroke="#e0e5e9" stroke-width="0.7"/>
<polygon points="538.3,1323.3 526.3,1311.3 539.9,1302.2 546.4,1317.9" fill="#f4f6f8" stroke="#e0e5e9" stroke-width="0.7"/>
<polygon points="526.3,1311.3 517.8,1302.8 535.3,1291.1 539.9,1302.2" fill="#e8ecef" stroke="#e0e5e9" stroke-width="0.7"/>
<polygon points="556.0,1341.0 546.4,1317.9 556.0,1316.0 556.0,1341.0" fill="#ffffff" stroke="#e0e5e9" stroke-width="0.7"/>
<polygon points="546.4,1317.9 539.9,1302.2 556.0,1299.0 556.0,1316.0" fill="#ffffff" stroke="#e0e5e9" stroke-width="0.7"/>
<polygon points="539.9,1302.2 535.3,1291.1 556.0,1287.0 556.0,1299.0" fill="#ffffff" stroke="#e0e5e9" stroke-width="0.7"/>
<polygon points="556.0,1341.0 556.0,1316.0 565.6,1317.9 556.0,1341.0" fill="#e8ecef" stroke="#e0e5e9" stroke-width="0.7"/>
<polygon points="556.0,1316.0 556.0,1299.0 572.1,1302.2 565.6,1317.9" fill="#f4f6f8" stroke="#e0e5e9" stroke-width="0.7"/>
<polygon points="556.0,1299.0 556.0,1287.0 576.7,1291.1 572.1,1302.2" fill="#f4f6f8" stroke="#e0e5e9" stroke-width="0.7"/>
<polygon points="556.0,1341.0 565.6,1317.9 573.7,1323.3 556.0,1341.0" fill="#e8ecef" stroke="#e0e5e9" stroke-width="0.7"/>
<polygon points="565.6,1317.9 572.1,1302.2 585.7,1311.3 573.7,1323.3" fill="#f4f6f8" stroke="#e0e5e9" stroke-width="0.7"/>
<polygon points="572.1,1302.2 576.7,1291.1 594.2,1302.8 585.7,1311.3" fill="#ffffff" stroke="#e0e5e9" stroke-width="0.7"/>
<polygon points="556.0,1341.0 573.7,1323.3 579.1,1331.4 556.0,1341.0" fill="#dbe1e5" stroke="#e0e5e9" stroke-width="0.7"/>
<polygon points="573.7,1323.3 585.7,1311.3 594.8,1324.9 579.1,1331.4" fill="#e8ecef" stroke="#e0e5e9" stroke-width="0.7"/>
<polygon points="585.7,1311.3 594.2,1302.8 605.9,1320.3 594.8,1324.9" fill="#ffffff" stroke="#e0e5e9" stroke-width="0.7"/>
<polygon points="556.0,1341.0 579.1,1331.4 581.0,1341.0 556.0,1341.0" fill="#e8ecef" stroke="#e0e5e9" stroke-width="0.7"/>
<polygon points="579.1,1331.4 594.8,1324.9 598.0,1341.0 581.0,1341.0" fill="#f4f6f8" stroke="#e0e5e9" stroke-width="0.7"/>
<polygon points="594.8,1324.9 605.9,1320.3 610.0,1341.0 598.0,1341.0" fill="#dbe1e5" stroke="#e0e5e9" stroke-width="0.7"/>
<polygon points="554.8,1321.9 559.9,1326.6 553.2,1325.0" fill="#4b5358"/>
<polygon points="566.6,1355.3 560.7,1358.5 564.3,1352.9" fill="#2f3539"/>
<polygon points="559.4,1312.8 556.9,1318.8 556.2,1312.4" fill="#8fa5b0"/>
<polygon points="535.0,1324.2 537.6,1320.1 537.3,1324.9" fill="#8fa5b0"/>
<polygon points="528.1,1343.7 527.2,1340.6 529.5,1342.9" fill="#4b5358"/>
<polygon points="552.6,1358.9 558.2,1359.7 553.0,1361.7" fill="#4b5358"/>
<polygon points="540.1,1360.7 541.0,1365.6 537.8,1361.8" fill="#8fa5b0"/>
<polygon points="567.9,1350.6 571.1,1347.3 570.0,1351.6" fill="#2f3539"/>
<polygon points="567.5,1357.0 570.1,1360.2 566.3,1358.7" fill="#4b5358"/>
<polygon points="568.1,1326.2 565.2,1329.9 566.0,1325.3" fill="#4b5358"/>
<circle cx="504.5" cy="1073.8" r="14.1" fill="#dadee1" stroke="#959ba0" stroke-width="2.0"/><circle cx="503.7" cy="1073.0" r="12.0" fill="#e6e9eb"/><circle cx="504.5" cy="1073.8" r="7.8" fill="#e9ecee" stroke="#979da2" stroke-width="2.2"/><circle cx="504.5" cy="1073.8" r="4.5" fill="#eef0f2"/>
<circle cx="610.6" cy="1078.9" r="14.1" fill="#dadee1" stroke="#959ba0" stroke-width="2.0"/><circle cx="609.8" cy="1078.1" r="12.0" fill="#e6e9eb"/><circle cx="610.6" cy="1078.9" r="7.8" fill="#e9ecee" stroke="#979da2" stroke-width="2.2"/><circle cx="610.6" cy="1078.9" r="4.5" fill="#eef0f2"/>
<circle cx="428.1" cy="1155.3" r="13.1" fill="#dadee1" stroke="#959ba0" stroke-width="2.0"/><circle cx="427.3" cy="1154.5" r="11.2" fill="#e6e9eb"/><circle cx="428.1" cy="1155.3" r="7.3" fill="#e9ecee" stroke="#979da2" stroke-width="2.2"/><circle cx="428.1" cy="1155.3" r="4.2" fill="#eef0f2"/>
<circle cx="685.6" cy="1154.8" r="13.1" fill="#dadee1" stroke="#959ba0" stroke-width="2.0"/><circle cx="684.8" cy="1154.0" r="11.2" fill="#e6e9eb"/><circle cx="685.6" cy="1154.8" r="7.3" fill="#e9ecee" stroke="#979da2" stroke-width="2.2"/><circle cx="685.6" cy="1154.8" r="4.2" fill="#eef0f2"/>
<circle cx="367.3" cy="1215.6" r="13.1" fill="#dadee1" stroke="#959ba0" stroke-width="2.0"/><circle cx="366.5" cy="1214.8" r="11.2" fill="#e6e9eb"/><circle cx="367.3" cy="1215.6" r="7.3" fill="#e9ecee" stroke="#979da2" stroke-width="2.2"/><circle cx="367.3" cy="1215.6" r="4.2" fill="#eef0f2"/>
<circle cx="743.8" cy="1215.6" r="13.1" fill="#dadee1" stroke="#959ba0" stroke-width="2.0"/><circle cx="743.0" cy="1214.8" r="11.2" fill="#e6e9eb"/><circle cx="743.8" cy="1215.6" r="7.3" fill="#e9ecee" stroke="#979da2" stroke-width="2.2"/><circle cx="743.8" cy="1215.6" r="4.2" fill="#eef0f2"/>
<circle cx="523.9" cy="1264.5" r="14.7" fill="#dadee1" stroke="#959ba0" stroke-width="2.0"/><circle cx="523.1" cy="1263.7" r="12.5" fill="#e6e9eb"/><circle cx="523.9" cy="1264.5" r="8.1" fill="#e9ecee" stroke="#979da2" stroke-width="2.2"/><circle cx="523.9" cy="1264.5" r="4.7" fill="#eef0f2"/>
<circle cx="587.8" cy="1264.5" r="14.7" fill="#dadee1" stroke="#959ba0" stroke-width="2.0"/><circle cx="587.0" cy="1263.7" r="12.5" fill="#e6e9eb"/><circle cx="587.8" cy="1264.5" r="8.1" fill="#e9ecee" stroke="#979da2" stroke-width="2.2"/><circle cx="587.8" cy="1264.5" r="4.7" fill="#eef0f2"/>
<circle cx="374.5" cy="1305.4" r="12.1" fill="#dadee1" stroke="#959ba0" stroke-width="2.0"/><circle cx="373.7" cy="1304.6" r="10.4" fill="#e6e9eb"/><circle cx="374.5" cy="1305.4" r="6.8" fill="#e9ecee" stroke="#979da2" stroke-width="2.2"/><circle cx="374.5" cy="1305.4" r="3.9" fill="#eef0f2"/>
<circle cx="483.7" cy="1306.7" r="12.1" fill="#dadee1" stroke="#959ba0" stroke-width="2.0"/><circle cx="482.9" cy="1305.9" r="10.4" fill="#e6e9eb"/><circle cx="483.7" cy="1306.7" r="6.8" fill="#e9ecee" stroke="#979da2" stroke-width="2.2"/><circle cx="483.7" cy="1306.7" r="3.9" fill="#eef0f2"/>
<circle cx="517.0" cy="1299.2" r="12.0" fill="#dadee1" stroke="#959ba0" stroke-width="2.0"/><circle cx="516.2" cy="1298.4" r="10.3" fill="#e6e9eb"/><circle cx="517.0" cy="1299.2" r="6.7" fill="#e9ecee" stroke="#979da2" stroke-width="2.2"/><circle cx="517.0" cy="1299.2" r="3.9" fill="#eef0f2"/>
<circle cx="595.4" cy="1299.2" r="12.0" fill="#dadee1" stroke="#959ba0" stroke-width="2.0"/><circle cx="594.6" cy="1298.4" r="10.3" fill="#e6e9eb"/><circle cx="595.4" cy="1299.2" r="6.7" fill="#e9ecee" stroke="#979da2" stroke-width="2.2"/><circle cx="595.4" cy="1299.2" r="3.9" fill="#eef0f2"/>
<circle cx="628.2" cy="1306.7" r="12.1" fill="#dadee1" stroke="#959ba0" stroke-width="2.0"/><circle cx="627.4" cy="1305.9" r="10.4" fill="#e6e9eb"/><circle cx="628.2" cy="1306.7" r="6.8" fill="#e9ecee" stroke="#979da2" stroke-width="2.2"/><circle cx="628.2" cy="1306.7" r="3.9" fill="#eef0f2"/>
<circle cx="737.4" cy="1305.4" r="12.1" fill="#dadee1" stroke="#959ba0" stroke-width="2.0"/><circle cx="736.6" cy="1304.6" r="10.4" fill="#e6e9eb"/><circle cx="737.4" cy="1305.4" r="6.8" fill="#e9ecee" stroke="#979da2" stroke-width="2.2"/><circle cx="737.4" cy="1305.4" r="3.9" fill="#eef0f2"/>
<circle cx="377.6" cy="1366.2" r="12.1" fill="#dadee1" stroke="#959ba0" stroke-width="2.0"/><circle cx="376.8" cy="1365.4" r="10.4" fill="#e6e9eb"/><circle cx="377.6" cy="1366.2" r="6.8" fill="#e9ecee" stroke="#979da2" stroke-width="2.2"/><circle cx="377.6" cy="1366.2" r="3.9" fill="#eef0f2"/>
<circle cx="495.4" cy="1349.4" r="12.1" fill="#dadee1" stroke="#959ba0" stroke-width="2.0"/><circle cx="494.6" cy="1348.6" r="10.4" fill="#e6e9eb"/><circle cx="495.4" cy="1349.4" r="6.8" fill="#e9ecee" stroke="#979da2" stroke-width="2.2"/><circle cx="495.4" cy="1349.4" r="3.9" fill="#eef0f2"/>
<circle cx="616.3" cy="1349.4" r="12.1" fill="#dadee1" stroke="#959ba0" stroke-width="2.0"/><circle cx="615.5" cy="1348.6" r="10.4" fill="#e6e9eb"/><circle cx="616.3" cy="1349.4" r="6.8" fill="#e9ecee" stroke="#979da2" stroke-width="2.2"/><circle cx="616.3" cy="1349.4" r="3.9" fill="#eef0f2"/>
<circle cx="734.8" cy="1366.2" r="12.1" fill="#dadee1" stroke="#959ba0" stroke-width="2.0"/><circle cx="734.0" cy="1365.4" r="10.4" fill="#e6e9eb"/><circle cx="734.8" cy="1366.2" r="6.8" fill="#e9ecee" stroke="#979da2" stroke-width="2.2"/><circle cx="734.8" cy="1366.2" r="3.9" fill="#eef0f2"/>
<circle cx="516.9" cy="1377.8" r="12.1" fill="#dadee1" stroke="#959ba0" stroke-width="2.0"/><circle cx="516.1" cy="1377.0" r="10.4" fill="#e6e9eb"/><circle cx="516.9" cy="1377.8" r="6.8" fill="#e9ecee" stroke="#979da2" stroke-width="2.2"/><circle cx="516.9" cy="1377.8" r="3.9" fill="#eef0f2"/>
<circle cx="595.0" cy="1377.8" r="12.1" fill="#dadee1" stroke="#959ba0" stroke-width="2.0"/><circle cx="594.2" cy="1377.0" r="10.4" fill="#e6e9eb"/><circle cx="595.0" cy="1377.8" r="6.8" fill="#e9ecee" stroke="#979da2" stroke-width="2.2"/><circle cx="595.0" cy="1377.8" r="3.9" fill="#eef0f2"/>
<defs><linearGradient id="gp" x1="0" y1="0" x2="0" y2="1"><stop offset="0" stop-color="#dadde1"/><stop offset="0.12" stop-color="#eceef1"/><stop offset="0.5" stop-color="#c9cdd1"/><stop offset="1" stop-color="#e9ebee"/></linearGradient><linearGradient id="dp" x1="0" y1="0" x2="0" y2="1"><stop offset="0" stop-color="#d9dce0"/><stop offset="0.22" stop-color="#e4e6e9"/><stop offset="0.26" stop-color="#b9bec3"/><stop offset="0.34" stop-color="#f0f1f3"/><stop offset="0.44" stop-color="#7d8389"/><stop offset="0.5" stop-color="#c9cdd1"/><stop offset="0.62" stop-color="#e3e6e9"/><stop offset="0.7" stop-color="#80868c"/><stop offset="0.78" stop-color="#c3c7cb"/><stop offset="0.9" stop-color="#8d9399"/><stop offset="0.93" stop-color="#111"/><stop offset="1" stop-color="#222"/></linearGradient><linearGradient id="lp" x1="0" y1="0" x2="0" y2="1"><stop offset="0" stop-color="#c9cdd1"/><stop offset="0.2" stop-color="#e8eaed"/><stop offset="0.5" stop-color="#f4f5f7"/><stop offset="0.75" stop-color="#dfe2e5"/><stop offset="1" stop-color="#e6e8eb"/></linearGradient><linearGradient id="rod" x1="0" y1="0" x2="0" y2="1"><stop offset="0" stop-color="#9da3a9"/><stop offset="0.05" stop-color="#eef0f2"/><stop offset="0.24" stop-color="#e3e6e9"/><stop offset="0.28" stop-color="#b5bbc0"/><stop offset="0.34" stop-color="#ebedf0"/><stop offset="0.62" stop-color="#f3f5f7"/><stop offset="0.67" stop-color="#b1b7bc"/><stop offset="0.73" stop-color="#e6e9ec"/><stop offset="0.94" stop-color="#eceef1"/><stop offset="1" stop-color="#9aa0a6"/></linearGradient><linearGradient id="disc" x1="0" y1="0" x2="0" y2="1"><stop offset="0" stop-color="#eceef1"/><stop offset="0.25" stop-color="#f1f3f5"/><stop offset="0.42" stop-color="#c3c8cd"/><stop offset="0.6" stop-color="#f3f5f7"/><stop offset="0.8" stop-color="#cdd2d6"/><stop offset="1" stop-color="#eef0f2"/></linearGradient></defs>
<clipPath id="dclip"><path d="M1238 1022 L1244 1022 L1244 1394 L1222 1394 L1214 1330 L1216 1066 Z"/></clipPath>
<path d="M1238 1022 L1244 1022 L1244 1394 L1222 1394 L1214 1330 L1216 1066 Z" fill="#f3f6f9"/>
<g clip-path="url(#dclip)">
<polygon points="1216.0,1024.0 1229.0,1029.2 1220.8,1035.0" fill="#f0f4f7"/>
<polygon points="1229.5,1024.0 1242.5,1027.1 1236.2,1035.0" fill="#ffffff"/>
<polygon points="1216.0,1033.0 1229.0,1042.0 1219.8,1044.0" fill="#ffffff"/>
<polygon points="1230.3,1033.0 1243.3,1039.8 1231.6,1044.0" fill="#f0f4f7"/>
<polygon points="1217.5,1042.0 1230.5,1048.1 1223.5,1053.0" fill="#d5e0e8"/>
<polygon points="1229.7,1042.0 1242.7,1049.5 1234.4,1053.0" fill="#ffffff"/>
<polygon points="1216.2,1051.0 1229.2,1059.2 1220.0,1062.0" fill="#ffffff"/>
<polygon points="1229.9,1051.0 1242.9,1058.3 1237.2,1062.0" fill="#d5e0e8"/>
<polygon points="1216.6,1060.0 1229.6,1065.7 1224.1,1071.0" fill="#e4ebf0"/>
<polygon points="1230.5,1060.0 1243.5,1063.8 1232.3,1071.0" fill="#ffffff"/>
<polygon points="1218.9,1069.0 1231.9,1075.8 1221.3,1080.0" fill="#f0f4f7"/>
<polygon points="1229.0,1069.0 1242.0,1074.1 1233.7,1080.0" fill="#f0f4f7"/>
<polygon points="1217.3,1078.0 1230.3,1085.1 1224.8,1089.0" fill="#d5e0e8"/>
<polygon points="1230.4,1078.0 1243.4,1085.0 1231.7,1089.0" fill="#8f9aa2"/>
<polygon points="1218.4,1087.0 1231.4,1095.4 1223.0,1098.0" fill="#c6d2da"/>
<polygon points="1229.9,1087.0 1242.9,1095.0 1234.4,1098.0" fill="#ffffff"/>
<polygon points="1216.1,1096.0 1229.1,1104.1 1224.1,1107.0" fill="#ffffff"/>
<polygon points="1227.4,1096.0 1240.4,1101.5 1228.6,1107.0" fill="#e4ebf0"/>
<polygon points="1216.2,1105.0 1229.2,1113.2 1216.5,1116.0" fill="#e4ebf0"/>
<polygon points="1229.5,1105.0 1242.5,1112.3 1232.1,1116.0" fill="#ffffff"/>
<polygon points="1218.5,1114.0 1231.5,1120.0 1226.5,1125.0" fill="#c6d2da"/>
<polygon points="1228.2,1114.0 1241.2,1120.6 1228.5,1125.0" fill="#ffffff"/>
<polygon points="1215.8,1123.0 1228.8,1129.7 1217.0,1134.0" fill="#f0f4f7"/>
<polygon points="1227.2,1123.0 1240.2,1127.9 1234.8,1134.0" fill="#d5e0e8"/>
<polygon points="1218.6,1132.0 1231.6,1137.8 1222.7,1143.0" fill="#f0f4f7"/>
<polygon points="1229.6,1132.0 1242.6,1138.4 1234.5,1143.0" fill="#f0f4f7"/>
<polygon points="1218.8,1141.0 1231.8,1146.6 1224.5,1152.0" fill="#f0f4f7"/>
<polygon points="1228.0,1141.0 1241.0,1149.9 1232.1,1152.0" fill="#ffffff"/>
<polygon points="1217.2,1150.0 1230.2,1155.5 1221.8,1161.0" fill="#ffffff"/>
<polygon points="1227.1,1150.0 1240.1,1156.8 1227.6,1161.0" fill="#f0f4f7"/>
<polygon points="1217.5,1159.0 1230.5,1166.1 1220.3,1170.0" fill="#f0f4f7"/>
<polygon points="1229.8,1159.0 1242.8,1162.1 1230.3,1170.0" fill="#e4ebf0"/>
<polygon points="1217.7,1168.0 1230.7,1172.5 1221.4,1179.0" fill="#c6d2da"/>
<polygon points="1229.4,1168.0 1242.4,1173.2 1231.9,1179.0" fill="#ffffff"/>
<polygon points="1216.5,1177.0 1229.5,1181.8 1219.5,1188.0" fill="#f0f4f7"/>
<polygon points="1230.1,1177.0 1243.1,1183.4 1236.0,1188.0" fill="#ffffff"/>
<polygon points="1216.2,1186.0 1229.2,1193.8 1218.1,1197.0" fill="#ffffff"/>
<polygon points="1227.7,1186.0 1240.7,1193.2 1228.6,1197.0" fill="#f0f4f7"/>
<polygon points="1216.3,1195.0 1229.3,1203.0 1219.8,1206.0" fill="#ffffff"/>
<polygon points="1230.4,1195.0 1243.4,1200.0 1235.6,1206.0" fill="#ffffff"/>
<polygon points="1218.5,1204.0 1231.5,1208.4 1219.5,1215.0" fill="#f0f4f7"/>
<polygon points="1229.1,1204.0 1242.1,1211.8 1235.8,1215.0" fill="#ffffff"/>
<polygon points="1215.7,1213.0 1228.7,1220.8 1220.9,1224.0" fill="#ffffff"/>
<polygon points="1230.2,1213.0 1243.2,1216.8 1232.6,1224.0" fill="#ffffff"/>
<polygon points="1218.2,1222.0 1231.2,1227.1 1221.5,1233.0" fill="#ffffff"/>
<polygon points="1228.7,1222.0 1241.7,1230.5 1229.9,1233.0" fill="#f0f4f7"/>
<polygon points="1215.0,1231.0 1228.0,1239.3 1222.9,1242.0" fill="#c6d2da"/>
<polygon points="1228.7,1231.0 1241.7,1239.6 1230.5,1242.0" fill="#c6d2da"/>
<polygon points="1218.0,1240.0 1231.0,1247.0 1222.1,1251.0" fill="#e4ebf0"/>
<polygon points="1228.2,1240.0 1241.2,1244.4 1228.7,1251.0" fill="#ffffff"/>
<polygon points="1217.4,1249.0 1230.4,1256.9 1217.7,1260.0" fill="#ffffff"/>
<polygon points="1230.6,1249.0 1243.6,1257.5 1237.8,1260.0" fill="#e4ebf0"/>
<polygon points="1218.6,1258.0 1231.6,1261.1 1224.6,1269.0" fill="#f0f4f7"/>
<polygon points="1227.7,1258.0 1240.7,1265.0 1231.9,1269.0" fill="#ffffff"/>
<polygon points="1216.7,1267.0 1229.7,1273.7 1219.4,1278.0" fill="#d5e0e8"/>
<polygon points="1228.0,1267.0 1241.0,1272.9 1234.3,1278.0" fill="#d5e0e8"/>
<polygon points="1216.4,1276.0 1229.4,1282.2 1222.9,1287.0" fill="#ffffff"/>
<polygon points="1227.7,1276.0 1240.7,1284.5 1234.1,1287.0" fill="#e4ebf0"/>
<polygon points="1218.3,1285.0 1231.3,1291.8 1225.2,1296.0" fill="#ffffff"/>
<polygon points="1227.2,1285.0 1240.2,1289.6 1231.4,1296.0" fill="#ffffff"/>
<polygon points="1216.7,1294.0 1229.7,1301.7 1216.7,1305.0" fill="#f0f4f7"/>
<polygon points="1227.2,1294.0 1240.2,1297.7 1227.8,1305.0" fill="#ffffff"/>
<polygon points="1218.9,1303.0 1231.9,1306.5 1222.9,1314.0" fill="#d5e0e8"/>
<polygon points="1228.3,1303.0 1241.3,1308.1 1233.4,1314.0" fill="#ffffff"/>
<polygon points="1217.3,1312.0 1230.3,1316.1 1220.0,1323.0" fill="#ffffff"/>
<polygon points="1227.5,1312.0 1240.5,1319.3 1230.5,1323.0" fill="#f0f4f7"/>
<polygon points="1215.3,1321.0 1228.3,1326.2 1220.2,1332.0" fill="#ffffff"/>
<polygon points="1230.1,1321.0 1243.1,1328.8 1235.1,1332.0" fill="#f0f4f7"/>
<polygon points="1216.7,1330.0 1229.7,1336.0 1222.3,1341.0" fill="#ffffff"/>
<polygon points="1228.7,1330.0 1241.7,1335.8 1230.6,1341.0" fill="#e4ebf0"/>
<polygon points="1217.1,1339.0 1230.1,1342.4 1220.5,1350.0" fill="#e4ebf0"/>
<polygon points="1228.7,1339.0 1241.7,1347.6 1231.7,1350.0" fill="#d5e0e8"/>
<polygon points="1218.6,1348.0 1231.6,1352.6 1222.3,1359.0" fill="#e4ebf0"/>
<polygon points="1227.5,1348.0 1240.5,1355.0 1234.6,1359.0" fill="#e4ebf0"/>
<polygon points="1218.2,1357.0 1231.2,1364.4 1222.7,1368.0" fill="#e4ebf0"/>
<polygon points="1227.4,1357.0 1240.4,1360.0 1228.6,1368.0" fill="#f0f4f7"/>
<polygon points="1218.1,1366.0 1231.1,1369.6 1218.9,1377.0" fill="#ffffff"/>
<polygon points="1230.5,1366.0 1243.5,1369.1 1237.3,1377.0" fill="#ffffff"/>
<polygon points="1215.5,1375.0 1228.5,1382.0 1222.2,1386.0" fill="#e4ebf0"/>
<polygon points="1230.8,1375.0 1243.8,1382.8 1231.1,1386.0" fill="#f0f4f7"/>
<polygon points="1218.1,1384.0 1231.1,1391.3 1218.9,1395.0" fill="#f0f4f7"/>
<polygon points="1230.0,1384.0 1243.0,1387.4 1232.6,1395.0" fill="#d5e0e8"/>
</g>
<path d="M1238 1022 L1216 1066" stroke="#d4dde4" stroke-width="1.2" fill="none"/>
<path d="M1243.5 1022 H1310 Q1316 1022 1316 1028 V1394 H1243.5 Z" fill="#eef0f2" stroke="#cdd1d5" stroke-width="1.3"/>
<rect x="1246" y="1093" width="66" height="47" fill="url(#gp)"/>
<rect x="1246" y="1166" width="66" height="37" fill="url(#lp)"/>
<rect x="1246" y="1231" width="66" height="62" fill="url(#dp)"/>
<rect x="1246" y="1324" width="66" height="34" fill="url(#lp)"/>
<line x1="1244.3" y1="1022" x2="1244.3" y2="1394" stroke="#8e949a" stroke-width="1.6"/>
<line x1="1247" y1="1093" x2="1247" y2="1394" stroke="#c2c7cc" stroke-width="1.2"/>
<path d="M1227.2 1064.5 H1312 Q1316 1064.5 1316 1068.5 V1089.0 Q1316 1093.0 1312 1093.0 H1227.2 A14.2 14.2 0 0 1 1227.2 1064.5 Z" fill="#eff1f3" stroke="#b3b8bd" stroke-width="1.5"/><path d="M1226.8 1070.8 H1307.2 A6.8 6.8 0 0 1 1307.2 1084.5 H1226.8 A6.8 6.8 0 0 1 1226.8 1070.8 Z" fill="#f7f8f9" stroke="#9fa5aa" stroke-width="1.6"/>
<path d="M1226.0 1140.0 H1312 Q1316 1140.0 1316 1144.0 V1162.0 Q1316 1166.0 1312 1166.0 H1226.0 A13.0 13.0 0 0 1 1226.0 1140.0 Z" fill="#eff1f3" stroke="#b3b8bd" stroke-width="1.5"/><path d="M1226.2 1145.7 H1307.8 A6.2 6.2 0 0 1 1307.8 1158.2 H1226.2 A6.2 6.2 0 0 1 1226.2 1145.7 Z" fill="#f7f8f9" stroke="#9fa5aa" stroke-width="1.6"/>
<path d="M1227.5 1202.5 H1312 Q1316 1202.5 1316 1206.5 V1227.5 Q1316 1231.5 1312 1231.5 H1227.5 A14.5 14.5 0 0 1 1227.5 1202.5 Z" fill="#eff1f3" stroke="#b3b8bd" stroke-width="1.5"/><path d="M1227.0 1208.9 H1307.0 A7.0 7.0 0 0 1 1307.0 1222.8 H1227.0 A7.0 7.0 0 0 1 1227.0 1208.9 Z" fill="#f7f8f9" stroke="#9fa5aa" stroke-width="1.6"/>
<path d="M1228.5 1293.0 H1312 Q1316 1293.0 1316 1297.0 V1320.0 Q1316 1324.0 1312 1324.0 H1228.5 A15.5 15.5 0 0 1 1228.5 1293.0 Z" fill="#eff1f3" stroke="#b3b8bd" stroke-width="1.5"/><path d="M1227.4 1299.8 H1306.6 A7.4 7.4 0 0 1 1306.6 1314.7 H1227.4 A7.4 7.4 0 0 1 1227.4 1299.8 Z" fill="#f7f8f9" stroke="#9fa5aa" stroke-width="1.6"/>
<path d="M1227.5 1358.0 H1312 Q1316 1358.0 1316 1362.0 V1383.0 Q1316 1387.0 1312 1387.0 H1227.5 A14.5 14.5 0 0 1 1227.5 1358.0 Z" fill="#eff1f3" stroke="#b3b8bd" stroke-width="1.5"/><path d="M1227.0 1364.4 H1307.0 A7.0 7.0 0 0 1 1307.0 1378.3 H1227.0 A7.0 7.0 0 0 1 1227.0 1364.4 Z" fill="#f7f8f9" stroke="#9fa5aa" stroke-width="1.6"/>
<path d="M1222 1386 H1312 Q1316 1386 1316 1389 V1391 H1222 A3 3 0 0 1 1222 1386 Z" fill="#eceef1" stroke="#b9bec3" stroke-width="1.2"/>
<line x1="1232" y1="1395" x2="1312" y2="1395" stroke="#d9dde0" stroke-width="1"/>
<rect x="1317" y="1193" width="182" height="43" fill="#eef0f2"/>
<rect x="1319.0" y="1192" width="6.4" height="45" rx="3.2" fill="#f4f5f7" stroke="#a3a9ae" stroke-width="1.2"/>
<ellipse cx="1326.6" cy="1214.5" rx="2.1" ry="9.5" fill="#f7f8fa" stroke="#aeb4b9" stroke-width="1.1"/>
<rect x="1327.8" y="1192" width="6.4" height="45" rx="3.2" fill="#f4f5f7" stroke="#a3a9ae" stroke-width="1.2"/>
<ellipse cx="1335.4" cy="1214.5" rx="2.1" ry="9.5" fill="#f7f8fa" stroke="#aeb4b9" stroke-width="1.1"/>
<rect x="1336.6" y="1192" width="6.4" height="45" rx="3.2" fill="#f4f5f7" stroke="#a3a9ae" stroke-width="1.2"/>
<ellipse cx="1344.2" cy="1214.5" rx="2.1" ry="9.5" fill="#f7f8fa" stroke="#aeb4b9" stroke-width="1.1"/>
<rect x="1345.4" y="1192" width="6.4" height="45" rx="3.2" fill="#f4f5f7" stroke="#a3a9ae" stroke-width="1.2"/>
<ellipse cx="1353.0" cy="1214.5" rx="2.1" ry="9.5" fill="#f7f8fa" stroke="#aeb4b9" stroke-width="1.1"/>
<rect x="1354.2" y="1192" width="6.4" height="45" rx="3.2" fill="#f4f5f7" stroke="#a3a9ae" stroke-width="1.2"/>
<ellipse cx="1361.8" cy="1214.5" rx="2.1" ry="9.5" fill="#f7f8fa" stroke="#aeb4b9" stroke-width="1.1"/>
<rect x="1363.0" y="1192" width="6.4" height="45" rx="3.2" fill="#f4f5f7" stroke="#a3a9ae" stroke-width="1.2"/>
<ellipse cx="1370.6" cy="1214.5" rx="2.1" ry="9.5" fill="#f7f8fa" stroke="#aeb4b9" stroke-width="1.1"/>
<rect x="1371.8" y="1192" width="6.4" height="45" rx="3.2" fill="#f4f5f7" stroke="#a3a9ae" stroke-width="1.2"/>
<ellipse cx="1379.4" cy="1214.5" rx="2.1" ry="9.5" fill="#f7f8fa" stroke="#aeb4b9" stroke-width="1.1"/>
<rect x="1380.6" y="1192" width="6.4" height="45" rx="3.2" fill="#f4f5f7" stroke="#a3a9ae" stroke-width="1.2"/>
<ellipse cx="1388.2" cy="1214.5" rx="2.1" ry="9.5" fill="#f7f8fa" stroke="#aeb4b9" stroke-width="1.1"/>
<rect x="1389.4" y="1192" width="6.4" height="45" rx="3.2" fill="#f4f5f7" stroke="#a3a9ae" stroke-width="1.2"/>
<ellipse cx="1397.0" cy="1214.5" rx="2.1" ry="9.5" fill="#f7f8fa" stroke="#aeb4b9" stroke-width="1.1"/>
<rect x="1398.2" y="1192" width="6.4" height="45" rx="3.2" fill="#f4f5f7" stroke="#a3a9ae" stroke-width="1.2"/>
<ellipse cx="1405.8" cy="1214.5" rx="2.1" ry="9.5" fill="#f7f8fa" stroke="#aeb4b9" stroke-width="1.1"/>
<rect x="1407.0" y="1192" width="6.4" height="45" rx="3.2" fill="#f4f5f7" stroke="#a3a9ae" stroke-width="1.2"/>
<ellipse cx="1414.6" cy="1214.5" rx="2.1" ry="9.5" fill="#f7f8fa" stroke="#aeb4b9" stroke-width="1.1"/>
<rect x="1415.8" y="1192" width="6.4" height="45" rx="3.2" fill="#f4f5f7" stroke="#a3a9ae" stroke-width="1.2"/>
<ellipse cx="1423.4" cy="1214.5" rx="2.1" ry="9.5" fill="#f7f8fa" stroke="#aeb4b9" stroke-width="1.1"/>
<rect x="1424.6" y="1192" width="6.4" height="45" rx="3.2" fill="#f4f5f7" stroke="#a3a9ae" stroke-width="1.2"/>
<ellipse cx="1432.2" cy="1214.5" rx="2.1" ry="9.5" fill="#f7f8fa" stroke="#aeb4b9" stroke-width="1.1"/>
<rect x="1433.4" y="1192" width="6.4" height="45" rx="3.2" fill="#f4f5f7" stroke="#a3a9ae" stroke-width="1.2"/>
<ellipse cx="1441.0" cy="1214.5" rx="2.1" ry="9.5" fill="#f7f8fa" stroke="#aeb4b9" stroke-width="1.1"/>
<rect x="1442.2" y="1192" width="6.4" height="45" rx="3.2" fill="#f4f5f7" stroke="#a3a9ae" stroke-width="1.2"/>
<ellipse cx="1449.8" cy="1214.5" rx="2.1" ry="9.5" fill="#f7f8fa" stroke="#aeb4b9" stroke-width="1.1"/>
<rect x="1451.0" y="1192" width="6.4" height="45" rx="3.2" fill="#f4f5f7" stroke="#a3a9ae" stroke-width="1.2"/>
<ellipse cx="1458.6" cy="1214.5" rx="2.1" ry="9.5" fill="#f7f8fa" stroke="#aeb4b9" stroke-width="1.1"/>
<rect x="1459.8" y="1192" width="6.4" height="45" rx="3.2" fill="#f4f5f7" stroke="#a3a9ae" stroke-width="1.2"/>
<ellipse cx="1467.4" cy="1214.5" rx="2.1" ry="9.5" fill="#f7f8fa" stroke="#aeb4b9" stroke-width="1.1"/>
<rect x="1468.6" y="1192" width="6.4" height="45" rx="3.2" fill="#f4f5f7" stroke="#a3a9ae" stroke-width="1.2"/>
<ellipse cx="1476.2" cy="1214.5" rx="2.1" ry="9.5" fill="#f7f8fa" stroke="#aeb4b9" stroke-width="1.1"/>
<rect x="1477.4" y="1192" width="6.4" height="45" rx="3.2" fill="#f4f5f7" stroke="#a3a9ae" stroke-width="1.2"/>
<ellipse cx="1485.0" cy="1214.5" rx="2.1" ry="9.5" fill="#f7f8fa" stroke="#aeb4b9" stroke-width="1.1"/>
<rect x="1486.2" y="1192" width="6.4" height="45" rx="3.2" fill="#f4f5f7" stroke="#a3a9ae" stroke-width="1.2"/>
<ellipse cx="1493.8" cy="1214.5" rx="2.1" ry="9.5" fill="#f7f8fa" stroke="#aeb4b9" stroke-width="1.1"/>
<rect x="1495.0" y="1192" width="6.4" height="45" rx="3.2" fill="#f4f5f7" stroke="#a3a9ae" stroke-width="1.2"/>
<ellipse cx="1502.6" cy="1214.5" rx="2.1" ry="9.5" fill="#f7f8fa" stroke="#aeb4b9" stroke-width="1.1"/>
<line x1="1318" y1="1205.5" x2="1498" y2="1205.5" stroke="#b4babf" stroke-width="1" opacity="0.8"/>
<line x1="1318" y1="1223.8" x2="1498" y2="1223.8" stroke="#b4babf" stroke-width="1" opacity="0.8"/>
<rect x="1498" y="1187" width="294" height="55" fill="url(#rod)"/>
<line x1="1498.5" y1="1187" x2="1498.5" y2="1242" stroke="#c0c5ca" stroke-width="1.2"/>
<rect x="1782" y="1119" width="44.5" height="190" rx="9" fill="#e9ecef" stroke="#c3c8cd" stroke-width="1.5"/>
<rect x="1791" y="1126" width="34" height="176" rx="7" fill="url(#disc)" stroke="#d0d4d8" stroke-width="1"/>
<path d="M1793 1150 Q1806 1215 1793 1280" fill="none" stroke="#c3c8cd" stroke-width="4" opacity="0.7"/>
<rect x="270.00" y="1016.00" width="60.00" height="4.00" fill="#000"/>
<rect x="270.00" y="1394.00" width="60.00" height="4.00" fill="#000"/>
<rect x="296.00" y="1044.00" width="4.00" height="325.00" fill="#000"/>
<polygon points="298.40,1019.50 288.00,1046.20 309.00,1046.20" fill="#000"/>
<polygon points="298.40,1393.80 288.00,1367.20 309.00,1367.20" fill="#000"/>
<rect x="339.00" y="1418.00" width="4.00" height="52.00" fill="#000"/>
<rect x="773.00" y="1418.00" width="4.00" height="52.00" fill="#000"/>
<rect x="367.00" y="1444.00" width="381.00" height="4.00" fill="#000"/>
<polygon points="343.30,1445.90 369.20,1435.20 369.20,1455.60" fill="#000"/>
<polygon points="772.20,1445.90 746.00,1435.20 746.00,1455.60" fill="#000"/>
<rect x="555.00" y="883.00" width="4.00" height="137.00" fill="#000"/>
<polygon points="558.50,858.30 548.20,885.20 568.90,885.20" fill="#000"/>
<rect x="750.00" y="1363.00" width="88.00" height="4.00" fill="#000"/>
<rect x="834.00" y="1314.00" width="4.00" height="53.00" fill="#000"/>
<polygon points="836.50,1289.30 826.20,1316.00 846.80,1316.00" fill="#000"/>
<rect x="1205.00" y="947.00" width="4.00" height="52.00" fill="#000"/>
<rect x="1319.00" y="947.00" width="4.00" height="52.00" fill="#000"/>
<rect x="1233.00" y="973.00" width="62.00" height="4.00" fill="#000"/>
<polygon points="1209.40,974.90 1235.00,964.70 1235.00,984.60" fill="#000"/>
<polygon points="1318.10,974.90 1292.50,964.70 1292.50,984.60" fill="#000"/>
<rect x="1574.00" y="1111.00" width="4.00" height="51.00" fill="#000"/>
<polygon points="1576.50,1187.00 1566.10,1160.10 1586.80,1160.10" fill="#000"/>
<rect x="1575.00" y="1268.00" width="4.00" height="49.00" fill="#000"/>
<polygon points="1577.50,1243.00 1567.20,1270.00 1587.90,1270.00" fill="#000"/>
<text transform="translate(625.77 199.00) scale(0.8593 1)" font-size="109.96">R</text>
<text transform="translate(693.52 199.00) scale(0.8597 1)" font-size="109.96">O</text>
<text transform="translate(765.57 199.00) scale(0.9339 1)" font-size="109.96">S</text>
<text transform="translate(826.87 199.00) scale(0.8888 1)" font-size="109.96">E</text>
<text transform="translate(892.45 199.00) scale(0.8070 1)" font-size="109.96">C</text>
<g transform="translate(0 127.6) scale(1 1.32) translate(0 -127.6)"><text transform="translate(983.26 199.00) scale(0.8348 1)" font-size="109.96">J</text></g>
<text transform="translate(1026.08 199.00) scale(0.8837 1)" font-size="109.96">E</text>
<text transform="translate(1090.00 199.00) scale(0.9398 1)" font-size="109.96">W</text>
<text transform="translate(1194.77 199.00) scale(0.8888 1)" font-size="109.96">E</text>
<text transform="translate(1261.02 199.00) scale(0.9042 1)" font-size="109.96">L</text>
<text transform="translate(1322.10 199.00) scale(0.9296 1)" font-size="109.96">S</text>
<text transform="translate(47.02 321.00) scale(0.9000 1)" font-size="73.30" letter-spacing="7.50">Lab-Grown</text>
<text transform="translate(433.72 321.00) scale(0.9000 1)" font-size="73.30" letter-spacing="8.34">Diamonds,</text>
<text transform="translate(803.70 321.00) scale(0.9000 1)" font-size="73.30" letter-spacing="8.05">Where</text>
<text transform="translate(1041.52 321.00) scale(0.9000 1)" font-size="73.30" letter-spacing="7.99">Beauty</text>
<text transform="translate(1288.42 321.00) scale(0.9000 1)" font-size="73.30" letter-spacing="7.76">Meets</text>
<text transform="translate(1501.12 321.00) scale(0.9000 1)" font-size="73.30" letter-spacing="7.13">Responsibility</text>
<text transform="translate(366.33 781.70) scale(0.9648 1)" font-size="45.36">2.50X5MM</text>
<text transform="translate(581.51 781.70) scale(1.0666 1)" font-size="46.72">Marquise</text>
<text transform="translate(777.20 781.70) scale(0.9969 1)" font-size="46.72">Diamond</text>
<text transform="translate(361.76 836.80) scale(0.9026 1)" font-size="45.93">EF-Color-VS</text>
<text transform="translate(598.98 836.80) scale(0.9919 1)" font-size="45.93">Clarity</text>
<text transform="translate(102.98 1233.70) scale(0.9537 1)" font-size="51.93">7.00MM</text>
<text transform="translate(779.22 1279.80) scale(0.9850 1)" font-size="53.48">Prong-Setting</text>
<text transform="translate(460.09 1495.90) scale(0.9514 1)" font-size="51.93">7.30MM</text>
<text transform="translate(1184.39 932.75) scale(0.9442 1)" font-size="51.93">2.00MM</text>
<text transform="translate(1447.12 1369.00) scale(0.9415 1)" font-size="51.93">1.2MM=18</text>
<text transform="translate(1685.33 1369.00) scale(0.9670 1)" font-size="53.48">Gauge</text>
<text transform="translate(577.71 1857.20) scale(1.0031 1)" font-size="56.63">Includes</text>
<text transform="translate(783.09 1857.20) scale(0.9756 1)" font-size="56.63">Certificate</text>
<text transform="translate(1029.33 1857.20) scale(0.9262 1)" font-size="56.63">of</text>
<text transform="translate(1085.44 1857.20) scale(0.9919 1)" font-size="56.63">Authenticity</text>
</svg>
</body></html>
